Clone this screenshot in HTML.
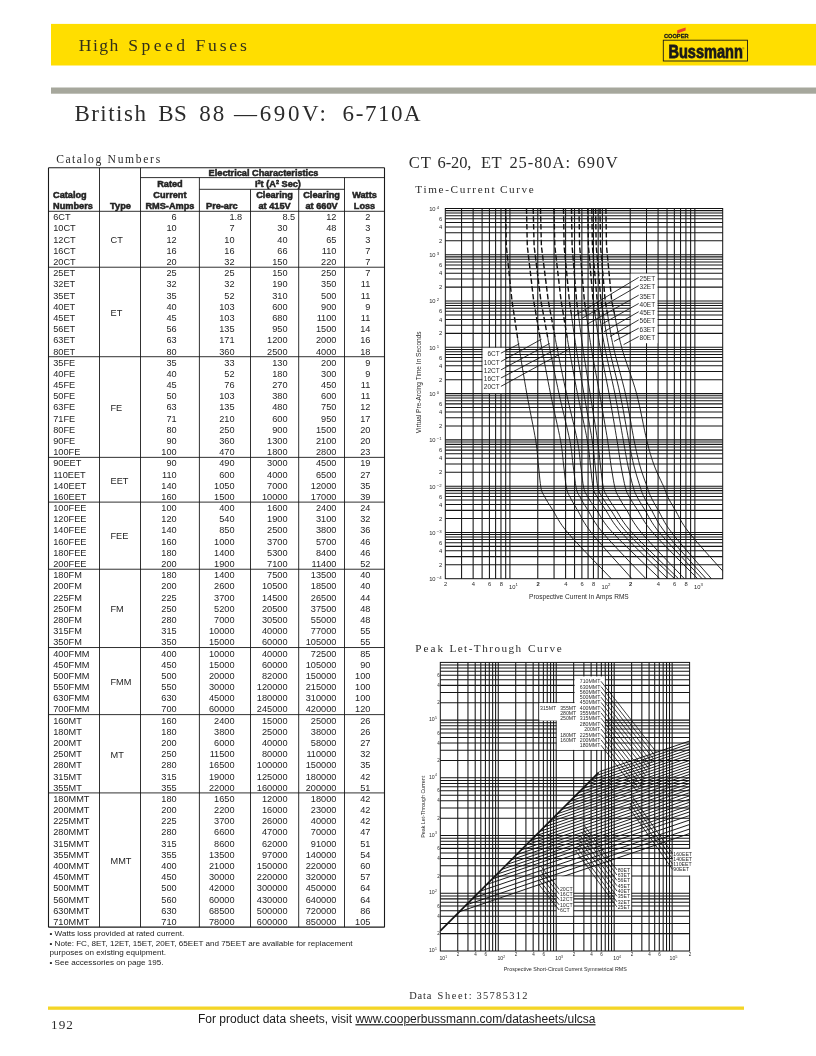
<!DOCTYPE html>
<html><head><meta charset="utf-8"><title>British BS 88</title>
<style>
html,body{margin:0;padding:0;background:#fff;}
body{width:816px;height:1056px;overflow:hidden;font-family:"Liberation Sans",sans-serif;}
svg{display:block;will-change:transform;}
svg text{white-space:pre;}
</style></head><body>
<svg width="816" height="1056" viewBox="0 0 816 1056">
<rect x="51" y="23.9" width="765" height="41.6" fill="#ffde00"/>
<rect x="51" y="87.5" width="765" height="6.2" fill="#a6a79c"/>
<text x="78.8" y="50.6" font-family="Liberation Serif" font-size="17.6" fill="#33301a" letter-spacing="1.47">High</text>
<text x="128.3" y="50.6" font-family="Liberation Serif" font-size="17.6" fill="#33301a" letter-spacing="3.42">Speed</text>
<text x="195.5" y="50.6" font-family="Liberation Serif" font-size="17.6" fill="#33301a" letter-spacing="2.80">Fuses</text>
<text x="74.4" y="121" font-family="Liberation Serif" font-size="23" fill="#2b2b2b" letter-spacing="1.48">British</text>
<text x="158.2" y="121" font-family="Liberation Serif" font-size="23" fill="#2b2b2b" letter-spacing="0.57">BS</text>
<text x="199.2" y="121" font-family="Liberation Serif" font-size="23" fill="#2b2b2b" letter-spacing="2.10">88</text>
<text x="234.1" y="121" font-family="Liberation Serif" font-size="23" fill="#2b2b2b" letter-spacing="0.00">—</text>
<text x="259.7" y="121" font-family="Liberation Serif" font-size="23" fill="#2b2b2b" letter-spacing="2.60">690V:</text>
<text x="342.6" y="121" font-family="Liberation Serif" font-size="23" fill="#2b2b2b" letter-spacing="1.57">6-710A</text>
<g id="logo">
<rect x="663.3" y="40.2" width="84.2" height="20.8" fill="#ffde00" stroke="#1a1a1a" stroke-width="0.9"/>
<text x="668.4" y="57.5" font-family="Liberation Sans" font-weight="bold" font-size="17.6" fill="#1a1a1a" stroke="#1a1a1a" stroke-width="0.8" textLength="74.5" lengthAdjust="spacingAndGlyphs">Bussmann</text>
<text x="742.2" y="50" font-family="Liberation Sans" font-size="3" fill="#1a1a1a">®</text>
<text x="664" y="38.3" font-family="Liberation Sans" font-weight="bold" font-size="6.2" fill="#1a1a1a" stroke="#1a1a1a" stroke-width="0.3" textLength="24.5" lengthAdjust="spacingAndGlyphs">COOPER</text>
<polygon points="677.2,30.3 685.6,27.5 685.6,30.5 677.2,33.4" fill="#e8412a"/>
</g>
<text x="56.3" y="162.9" font-family="Liberation Serif" font-size="11.6" fill="#2b2b2b" letter-spacing="1.47">Catalog</text>
<text x="107.6" y="162.9" font-family="Liberation Serif" font-size="11.6" fill="#2b2b2b" letter-spacing="1.68">Numbers</text>
<text x="408.8" y="168.2" font-family="Liberation Serif" font-size="16.5" fill="#2b2b2b" letter-spacing="1.01">CT</text>
<text x="437.6" y="168.2" font-family="Liberation Serif" font-size="16.5" fill="#2b2b2b" letter-spacing="-0.12">6-20,</text>
<text x="480.9" y="168.2" font-family="Liberation Serif" font-size="16.5" fill="#2b2b2b" letter-spacing="0.44">ET</text>
<text x="509.4" y="168.2" font-family="Liberation Serif" font-size="16.5" fill="#2b2b2b" letter-spacing="0.93">25-80A:</text>
<text x="577.4" y="168.2" font-family="Liberation Serif" font-size="16.5" fill="#2b2b2b" letter-spacing="1.18">690V</text>
<text x="415.3" y="192.6" font-family="Liberation Serif" font-size="11.2" fill="#2b2b2b" letter-spacing="1.66">Time-Current</text>
<text x="500.0" y="192.6" font-family="Liberation Serif" font-size="11.2" fill="#2b2b2b" letter-spacing="1.61">Curve</text>
<text x="415.3" y="651.8" font-family="Liberation Serif" font-size="11.2" fill="#2b2b2b" letter-spacing="2.04">Peak</text>
<text x="449.4" y="651.8" font-family="Liberation Serif" font-size="11.2" fill="#2b2b2b" letter-spacing="1.46">Let-Through</text>
<text x="527.9" y="651.8" font-family="Liberation Serif" font-size="11.2" fill="#2b2b2b" letter-spacing="1.63">Curve</text>
<text x="409.3" y="998.5" font-family="Liberation Serif" font-size="10.4" fill="#2b2b2b" letter-spacing="0.82">Data</text>
<text x="437.5" y="998.5" font-family="Liberation Serif" font-size="10.4" fill="#2b2b2b" letter-spacing="1.62">Sheet:</text>
<text x="476.5" y="998.5" font-family="Liberation Serif" font-size="10.4" fill="#2b2b2b" letter-spacing="1.34">35785312</text>
<rect x="48" y="1006.5" width="696" height="3.3" fill="#f4d526"/>
<text x="51.1" y="1029" font-family="Liberation Serif" font-size="13.2" fill="#2b2b2b" letter-spacing="1.00">192</text>
<text x="198" y="1023.2" font-family="Liberation Sans" font-size="12" fill="#1a1a1a">For product data sheets, visit <tspan text-decoration="underline">www.cooperbussmann.com/datasheets/ulcsa</tspan></text>
<text x="49.50" y="935.50" font-size="8.1" text-anchor="start" font-weight="normal" font-family="Liberation Sans" fill="#1a1a1a">• Watts loss provided at rated current.</text>
<text x="49.50" y="945.70" font-size="8.1" text-anchor="start" font-weight="normal" font-family="Liberation Sans" fill="#1a1a1a">• Note: FC, 8ET, 12ET, 15ET, 20ET, 65EET and 75EET are available for replacement</text>
<text x="49.50" y="955.10" font-size="8.1" text-anchor="start" font-weight="normal" font-family="Liberation Sans" fill="#1a1a1a">purposes on existing equipment.</text>
<text x="49.50" y="964.80" font-size="8.1" text-anchor="start" font-weight="normal" font-family="Liberation Sans" fill="#1a1a1a">• See accessories on page 195.</text>
<g id="tbl" fill="#242424">
<line x1="48.50" y1="167.80" x2="384.50" y2="167.80" stroke="#1a1a1a" stroke-width="1.1"/>
<line x1="48.50" y1="927.14" x2="384.50" y2="927.14" stroke="#1a1a1a" stroke-width="1.1"/>
<line x1="48.50" y1="167.80" x2="48.50" y2="927.14" stroke="#1a1a1a" stroke-width="1.1"/>
<line x1="384.50" y1="167.80" x2="384.50" y2="927.14" stroke="#1a1a1a" stroke-width="1.1"/>
<line x1="99.50" y1="167.80" x2="99.50" y2="927.14" stroke="#1a1a1a" stroke-width="0.9"/>
<line x1="140.50" y1="167.80" x2="140.50" y2="927.14" stroke="#1a1a1a" stroke-width="0.9"/>
<line x1="140.50" y1="177.60" x2="384.50" y2="177.60" stroke="#1a1a1a" stroke-width="0.9"/>
<line x1="199.40" y1="177.60" x2="199.40" y2="927.14" stroke="#1a1a1a" stroke-width="0.9"/>
<line x1="199.40" y1="189.30" x2="344.50" y2="189.30" stroke="#1a1a1a" stroke-width="0.9"/>
<line x1="250.50" y1="189.30" x2="250.50" y2="927.14" stroke="#1a1a1a" stroke-width="0.9"/>
<line x1="298.70" y1="189.30" x2="298.70" y2="927.14" stroke="#1a1a1a" stroke-width="0.9"/>
<line x1="344.50" y1="177.60" x2="344.50" y2="927.14" stroke="#1a1a1a" stroke-width="0.9"/>
<line x1="48.50" y1="211.30" x2="384.50" y2="211.30" stroke="#1a1a1a" stroke-width="0.9"/>
<text x="263.50" y="175.60" font-size="9.2" text-anchor="middle" font-weight="bold" font-family="Liberation Sans" stroke="#242424" stroke-width="0.5">Electrical Characteristics</text>
<text x="169.95" y="186.80" font-size="9.2" text-anchor="middle" font-weight="bold" font-family="Liberation Sans" stroke="#242424" stroke-width="0.5">Rated</text>
<text x="169.95" y="198.20" font-size="9.2" text-anchor="middle" font-weight="bold" font-family="Liberation Sans" stroke="#242424" stroke-width="0.5">Current</text>
<text x="169.95" y="209.40" font-size="9.2" text-anchor="middle" font-weight="bold" font-family="Liberation Sans" stroke="#242424" stroke-width="0.5">RMS-Amps</text>
<text x="277.95" y="186.80" font-size="9.2" text-anchor="middle" font-weight="bold" font-family="Liberation Sans" stroke="#242424" stroke-width="0.5">I<tspan font-size="5.5" dy="-3">2</tspan><tspan dy="3">t (A</tspan><tspan font-size="5.5" dy="-3">2</tspan><tspan dy="3"> Sec)</tspan></text>
<text x="53.00" y="198.20" font-size="9.2" text-anchor="start" font-weight="bold" font-family="Liberation Sans" stroke="#242424" stroke-width="0.5">Catalog</text>
<text x="53.00" y="209.40" font-size="9.2" text-anchor="start" font-weight="bold" font-family="Liberation Sans" stroke="#242424" stroke-width="0.5">Numbers</text>
<text x="120.50" y="209.40" font-size="9.2" text-anchor="middle" font-weight="bold" font-family="Liberation Sans" stroke="#242424" stroke-width="0.5">Type</text>
<text x="206.00" y="209.40" font-size="9.2" text-anchor="start" font-weight="bold" font-family="Liberation Sans" stroke="#242424" stroke-width="0.5">Pre-arc</text>
<text x="274.60" y="198.20" font-size="9.2" text-anchor="middle" font-weight="bold" font-family="Liberation Sans" stroke="#242424" stroke-width="0.5">Clearing</text>
<text x="274.60" y="209.40" font-size="9.2" text-anchor="middle" font-weight="bold" font-family="Liberation Sans" stroke="#242424" stroke-width="0.5">at 415V</text>
<text x="321.60" y="198.20" font-size="9.2" text-anchor="middle" font-weight="bold" font-family="Liberation Sans" stroke="#242424" stroke-width="0.5">Clearing</text>
<text x="321.60" y="209.40" font-size="9.2" text-anchor="middle" font-weight="bold" font-family="Liberation Sans" stroke="#242424" stroke-width="0.5">at 660V</text>
<text x="364.50" y="198.20" font-size="9.2" text-anchor="middle" font-weight="bold" font-family="Liberation Sans" stroke="#242424" stroke-width="0.5">Watts</text>
<text x="364.50" y="209.40" font-size="9.2" text-anchor="middle" font-weight="bold" font-family="Liberation Sans" stroke="#242424" stroke-width="0.5">Loss</text>
<text x="53.20" y="220.30" font-size="9.2" text-anchor="start" font-weight="normal" font-family="Liberation Sans" >6CT</text>
<text x="176.70" y="220.30" font-size="9.2" text-anchor="end" font-weight="normal" font-family="Liberation Sans" >6</text>
<text x="234.50" y="220.30" font-size="9.2" text-anchor="end" font-weight="normal" font-family="Liberation Sans" >1</text>
<text x="234.50" y="220.30" font-size="9.2" text-anchor="start" font-weight="normal" font-family="Liberation Sans" >.8</text>
<text x="287.50" y="220.30" font-size="9.2" text-anchor="end" font-weight="normal" font-family="Liberation Sans" >8</text>
<text x="287.50" y="220.30" font-size="9.2" text-anchor="start" font-weight="normal" font-family="Liberation Sans" >.5</text>
<text x="336.40" y="220.30" font-size="9.2" text-anchor="end" font-weight="normal" font-family="Liberation Sans" >12</text>
<text x="370.40" y="220.30" font-size="9.2" text-anchor="end" font-weight="normal" font-family="Liberation Sans" >2</text>
<text x="53.20" y="231.49" font-size="9.2" text-anchor="start" font-weight="normal" font-family="Liberation Sans" >10CT</text>
<text x="176.70" y="231.49" font-size="9.2" text-anchor="end" font-weight="normal" font-family="Liberation Sans" >10</text>
<text x="234.50" y="231.49" font-size="9.2" text-anchor="end" font-weight="normal" font-family="Liberation Sans" >7</text>
<text x="287.50" y="231.49" font-size="9.2" text-anchor="end" font-weight="normal" font-family="Liberation Sans" >30</text>
<text x="336.40" y="231.49" font-size="9.2" text-anchor="end" font-weight="normal" font-family="Liberation Sans" >48</text>
<text x="370.40" y="231.49" font-size="9.2" text-anchor="end" font-weight="normal" font-family="Liberation Sans" >3</text>
<text x="53.20" y="242.67" font-size="9.2" text-anchor="start" font-weight="normal" font-family="Liberation Sans" >12CT</text>
<text x="176.70" y="242.67" font-size="9.2" text-anchor="end" font-weight="normal" font-family="Liberation Sans" >12</text>
<text x="234.50" y="242.67" font-size="9.2" text-anchor="end" font-weight="normal" font-family="Liberation Sans" >10</text>
<text x="287.50" y="242.67" font-size="9.2" text-anchor="end" font-weight="normal" font-family="Liberation Sans" >40</text>
<text x="336.40" y="242.67" font-size="9.2" text-anchor="end" font-weight="normal" font-family="Liberation Sans" >65</text>
<text x="370.40" y="242.67" font-size="9.2" text-anchor="end" font-weight="normal" font-family="Liberation Sans" >3</text>
<text x="53.20" y="253.86" font-size="9.2" text-anchor="start" font-weight="normal" font-family="Liberation Sans" >16CT</text>
<text x="176.70" y="253.86" font-size="9.2" text-anchor="end" font-weight="normal" font-family="Liberation Sans" >16</text>
<text x="234.50" y="253.86" font-size="9.2" text-anchor="end" font-weight="normal" font-family="Liberation Sans" >16</text>
<text x="287.50" y="253.86" font-size="9.2" text-anchor="end" font-weight="normal" font-family="Liberation Sans" >66</text>
<text x="336.40" y="253.86" font-size="9.2" text-anchor="end" font-weight="normal" font-family="Liberation Sans" >110</text>
<text x="370.40" y="253.86" font-size="9.2" text-anchor="end" font-weight="normal" font-family="Liberation Sans" >7</text>
<text x="53.20" y="265.04" font-size="9.2" text-anchor="start" font-weight="normal" font-family="Liberation Sans" >20CT</text>
<text x="176.70" y="265.04" font-size="9.2" text-anchor="end" font-weight="normal" font-family="Liberation Sans" >20</text>
<text x="234.50" y="265.04" font-size="9.2" text-anchor="end" font-weight="normal" font-family="Liberation Sans" >32</text>
<text x="287.50" y="265.04" font-size="9.2" text-anchor="end" font-weight="normal" font-family="Liberation Sans" >150</text>
<text x="336.40" y="265.04" font-size="9.2" text-anchor="end" font-weight="normal" font-family="Liberation Sans" >220</text>
<text x="370.40" y="265.04" font-size="9.2" text-anchor="end" font-weight="normal" font-family="Liberation Sans" >7</text>
<text x="110.50" y="243.06" font-size="9.2" text-anchor="start" font-weight="normal" font-family="Liberation Sans" >CT</text>
<line x1="48.50" y1="267.23" x2="384.50" y2="267.23" stroke="#1a1a1a" stroke-width="0.9"/>
<text x="53.20" y="276.23" font-size="9.2" text-anchor="start" font-weight="normal" font-family="Liberation Sans" >25ET</text>
<text x="176.70" y="276.23" font-size="9.2" text-anchor="end" font-weight="normal" font-family="Liberation Sans" >25</text>
<text x="234.50" y="276.23" font-size="9.2" text-anchor="end" font-weight="normal" font-family="Liberation Sans" >25</text>
<text x="287.50" y="276.23" font-size="9.2" text-anchor="end" font-weight="normal" font-family="Liberation Sans" >150</text>
<text x="336.40" y="276.23" font-size="9.2" text-anchor="end" font-weight="normal" font-family="Liberation Sans" >250</text>
<text x="370.40" y="276.23" font-size="9.2" text-anchor="end" font-weight="normal" font-family="Liberation Sans" >7</text>
<text x="53.20" y="287.41" font-size="9.2" text-anchor="start" font-weight="normal" font-family="Liberation Sans" >32ET</text>
<text x="176.70" y="287.41" font-size="9.2" text-anchor="end" font-weight="normal" font-family="Liberation Sans" >32</text>
<text x="234.50" y="287.41" font-size="9.2" text-anchor="end" font-weight="normal" font-family="Liberation Sans" >32</text>
<text x="287.50" y="287.41" font-size="9.2" text-anchor="end" font-weight="normal" font-family="Liberation Sans" >190</text>
<text x="336.40" y="287.41" font-size="9.2" text-anchor="end" font-weight="normal" font-family="Liberation Sans" >350</text>
<text x="370.40" y="287.41" font-size="9.2" text-anchor="end" font-weight="normal" font-family="Liberation Sans" >11</text>
<text x="53.20" y="298.60" font-size="9.2" text-anchor="start" font-weight="normal" font-family="Liberation Sans" >35ET</text>
<text x="176.70" y="298.60" font-size="9.2" text-anchor="end" font-weight="normal" font-family="Liberation Sans" >35</text>
<text x="234.50" y="298.60" font-size="9.2" text-anchor="end" font-weight="normal" font-family="Liberation Sans" >52</text>
<text x="287.50" y="298.60" font-size="9.2" text-anchor="end" font-weight="normal" font-family="Liberation Sans" >310</text>
<text x="336.40" y="298.60" font-size="9.2" text-anchor="end" font-weight="normal" font-family="Liberation Sans" >500</text>
<text x="370.40" y="298.60" font-size="9.2" text-anchor="end" font-weight="normal" font-family="Liberation Sans" >11</text>
<text x="53.20" y="309.78" font-size="9.2" text-anchor="start" font-weight="normal" font-family="Liberation Sans" >40ET</text>
<text x="176.70" y="309.78" font-size="9.2" text-anchor="end" font-weight="normal" font-family="Liberation Sans" >40</text>
<text x="234.50" y="309.78" font-size="9.2" text-anchor="end" font-weight="normal" font-family="Liberation Sans" >103</text>
<text x="287.50" y="309.78" font-size="9.2" text-anchor="end" font-weight="normal" font-family="Liberation Sans" >600</text>
<text x="336.40" y="309.78" font-size="9.2" text-anchor="end" font-weight="normal" font-family="Liberation Sans" >900</text>
<text x="370.40" y="309.78" font-size="9.2" text-anchor="end" font-weight="normal" font-family="Liberation Sans" >9</text>
<text x="53.20" y="320.97" font-size="9.2" text-anchor="start" font-weight="normal" font-family="Liberation Sans" >45ET</text>
<text x="176.70" y="320.97" font-size="9.2" text-anchor="end" font-weight="normal" font-family="Liberation Sans" >45</text>
<text x="234.50" y="320.97" font-size="9.2" text-anchor="end" font-weight="normal" font-family="Liberation Sans" >103</text>
<text x="287.50" y="320.97" font-size="9.2" text-anchor="end" font-weight="normal" font-family="Liberation Sans" >680</text>
<text x="336.40" y="320.97" font-size="9.2" text-anchor="end" font-weight="normal" font-family="Liberation Sans" >1100</text>
<text x="370.40" y="320.97" font-size="9.2" text-anchor="end" font-weight="normal" font-family="Liberation Sans" >11</text>
<text x="53.20" y="332.15" font-size="9.2" text-anchor="start" font-weight="normal" font-family="Liberation Sans" >56ET</text>
<text x="176.70" y="332.15" font-size="9.2" text-anchor="end" font-weight="normal" font-family="Liberation Sans" >56</text>
<text x="234.50" y="332.15" font-size="9.2" text-anchor="end" font-weight="normal" font-family="Liberation Sans" >135</text>
<text x="287.50" y="332.15" font-size="9.2" text-anchor="end" font-weight="normal" font-family="Liberation Sans" >950</text>
<text x="336.40" y="332.15" font-size="9.2" text-anchor="end" font-weight="normal" font-family="Liberation Sans" >1500</text>
<text x="370.40" y="332.15" font-size="9.2" text-anchor="end" font-weight="normal" font-family="Liberation Sans" >14</text>
<text x="53.20" y="343.34" font-size="9.2" text-anchor="start" font-weight="normal" font-family="Liberation Sans" >63ET</text>
<text x="176.70" y="343.34" font-size="9.2" text-anchor="end" font-weight="normal" font-family="Liberation Sans" >63</text>
<text x="234.50" y="343.34" font-size="9.2" text-anchor="end" font-weight="normal" font-family="Liberation Sans" >171</text>
<text x="287.50" y="343.34" font-size="9.2" text-anchor="end" font-weight="normal" font-family="Liberation Sans" >1200</text>
<text x="336.40" y="343.34" font-size="9.2" text-anchor="end" font-weight="normal" font-family="Liberation Sans" >2000</text>
<text x="370.40" y="343.34" font-size="9.2" text-anchor="end" font-weight="normal" font-family="Liberation Sans" >16</text>
<text x="53.20" y="354.52" font-size="9.2" text-anchor="start" font-weight="normal" font-family="Liberation Sans" >80ET</text>
<text x="176.70" y="354.52" font-size="9.2" text-anchor="end" font-weight="normal" font-family="Liberation Sans" >80</text>
<text x="234.50" y="354.52" font-size="9.2" text-anchor="end" font-weight="normal" font-family="Liberation Sans" >360</text>
<text x="287.50" y="354.52" font-size="9.2" text-anchor="end" font-weight="normal" font-family="Liberation Sans" >2500</text>
<text x="336.40" y="354.52" font-size="9.2" text-anchor="end" font-weight="normal" font-family="Liberation Sans" >4000</text>
<text x="370.40" y="354.52" font-size="9.2" text-anchor="end" font-weight="normal" font-family="Liberation Sans" >18</text>
<text x="110.50" y="315.77" font-size="9.2" text-anchor="start" font-weight="normal" font-family="Liberation Sans" >ET</text>
<line x1="48.50" y1="356.71" x2="384.50" y2="356.71" stroke="#1a1a1a" stroke-width="0.9"/>
<text x="53.20" y="365.71" font-size="9.2" text-anchor="start" font-weight="normal" font-family="Liberation Sans" >35FE</text>
<text x="176.70" y="365.71" font-size="9.2" text-anchor="end" font-weight="normal" font-family="Liberation Sans" >35</text>
<text x="234.50" y="365.71" font-size="9.2" text-anchor="end" font-weight="normal" font-family="Liberation Sans" >33</text>
<text x="287.50" y="365.71" font-size="9.2" text-anchor="end" font-weight="normal" font-family="Liberation Sans" >130</text>
<text x="336.40" y="365.71" font-size="9.2" text-anchor="end" font-weight="normal" font-family="Liberation Sans" >200</text>
<text x="370.40" y="365.71" font-size="9.2" text-anchor="end" font-weight="normal" font-family="Liberation Sans" >9</text>
<text x="53.20" y="376.89" font-size="9.2" text-anchor="start" font-weight="normal" font-family="Liberation Sans" >40FE</text>
<text x="176.70" y="376.89" font-size="9.2" text-anchor="end" font-weight="normal" font-family="Liberation Sans" >40</text>
<text x="234.50" y="376.89" font-size="9.2" text-anchor="end" font-weight="normal" font-family="Liberation Sans" >52</text>
<text x="287.50" y="376.89" font-size="9.2" text-anchor="end" font-weight="normal" font-family="Liberation Sans" >180</text>
<text x="336.40" y="376.89" font-size="9.2" text-anchor="end" font-weight="normal" font-family="Liberation Sans" >300</text>
<text x="370.40" y="376.89" font-size="9.2" text-anchor="end" font-weight="normal" font-family="Liberation Sans" >9</text>
<text x="53.20" y="388.08" font-size="9.2" text-anchor="start" font-weight="normal" font-family="Liberation Sans" >45FE</text>
<text x="176.70" y="388.08" font-size="9.2" text-anchor="end" font-weight="normal" font-family="Liberation Sans" >45</text>
<text x="234.50" y="388.08" font-size="9.2" text-anchor="end" font-weight="normal" font-family="Liberation Sans" >76</text>
<text x="287.50" y="388.08" font-size="9.2" text-anchor="end" font-weight="normal" font-family="Liberation Sans" >270</text>
<text x="336.40" y="388.08" font-size="9.2" text-anchor="end" font-weight="normal" font-family="Liberation Sans" >450</text>
<text x="370.40" y="388.08" font-size="9.2" text-anchor="end" font-weight="normal" font-family="Liberation Sans" >11</text>
<text x="53.20" y="399.26" font-size="9.2" text-anchor="start" font-weight="normal" font-family="Liberation Sans" >50FE</text>
<text x="176.70" y="399.26" font-size="9.2" text-anchor="end" font-weight="normal" font-family="Liberation Sans" >50</text>
<text x="234.50" y="399.26" font-size="9.2" text-anchor="end" font-weight="normal" font-family="Liberation Sans" >103</text>
<text x="287.50" y="399.26" font-size="9.2" text-anchor="end" font-weight="normal" font-family="Liberation Sans" >380</text>
<text x="336.40" y="399.26" font-size="9.2" text-anchor="end" font-weight="normal" font-family="Liberation Sans" >600</text>
<text x="370.40" y="399.26" font-size="9.2" text-anchor="end" font-weight="normal" font-family="Liberation Sans" >11</text>
<text x="53.20" y="410.45" font-size="9.2" text-anchor="start" font-weight="normal" font-family="Liberation Sans" >63FE</text>
<text x="176.70" y="410.45" font-size="9.2" text-anchor="end" font-weight="normal" font-family="Liberation Sans" >63</text>
<text x="234.50" y="410.45" font-size="9.2" text-anchor="end" font-weight="normal" font-family="Liberation Sans" >135</text>
<text x="287.50" y="410.45" font-size="9.2" text-anchor="end" font-weight="normal" font-family="Liberation Sans" >480</text>
<text x="336.40" y="410.45" font-size="9.2" text-anchor="end" font-weight="normal" font-family="Liberation Sans" >750</text>
<text x="370.40" y="410.45" font-size="9.2" text-anchor="end" font-weight="normal" font-family="Liberation Sans" >12</text>
<text x="53.20" y="421.63" font-size="9.2" text-anchor="start" font-weight="normal" font-family="Liberation Sans" >71FE</text>
<text x="176.70" y="421.63" font-size="9.2" text-anchor="end" font-weight="normal" font-family="Liberation Sans" >71</text>
<text x="234.50" y="421.63" font-size="9.2" text-anchor="end" font-weight="normal" font-family="Liberation Sans" >210</text>
<text x="287.50" y="421.63" font-size="9.2" text-anchor="end" font-weight="normal" font-family="Liberation Sans" >600</text>
<text x="336.40" y="421.63" font-size="9.2" text-anchor="end" font-weight="normal" font-family="Liberation Sans" >950</text>
<text x="370.40" y="421.63" font-size="9.2" text-anchor="end" font-weight="normal" font-family="Liberation Sans" >17</text>
<text x="53.20" y="432.82" font-size="9.2" text-anchor="start" font-weight="normal" font-family="Liberation Sans" >80FE</text>
<text x="176.70" y="432.82" font-size="9.2" text-anchor="end" font-weight="normal" font-family="Liberation Sans" >80</text>
<text x="234.50" y="432.82" font-size="9.2" text-anchor="end" font-weight="normal" font-family="Liberation Sans" >250</text>
<text x="287.50" y="432.82" font-size="9.2" text-anchor="end" font-weight="normal" font-family="Liberation Sans" >900</text>
<text x="336.40" y="432.82" font-size="9.2" text-anchor="end" font-weight="normal" font-family="Liberation Sans" >1500</text>
<text x="370.40" y="432.82" font-size="9.2" text-anchor="end" font-weight="normal" font-family="Liberation Sans" >20</text>
<text x="53.20" y="444.00" font-size="9.2" text-anchor="start" font-weight="normal" font-family="Liberation Sans" >90FE</text>
<text x="176.70" y="444.00" font-size="9.2" text-anchor="end" font-weight="normal" font-family="Liberation Sans" >90</text>
<text x="234.50" y="444.00" font-size="9.2" text-anchor="end" font-weight="normal" font-family="Liberation Sans" >360</text>
<text x="287.50" y="444.00" font-size="9.2" text-anchor="end" font-weight="normal" font-family="Liberation Sans" >1300</text>
<text x="336.40" y="444.00" font-size="9.2" text-anchor="end" font-weight="normal" font-family="Liberation Sans" >2100</text>
<text x="370.40" y="444.00" font-size="9.2" text-anchor="end" font-weight="normal" font-family="Liberation Sans" >20</text>
<text x="53.20" y="455.19" font-size="9.2" text-anchor="start" font-weight="normal" font-family="Liberation Sans" >100FE</text>
<text x="176.70" y="455.19" font-size="9.2" text-anchor="end" font-weight="normal" font-family="Liberation Sans" >100</text>
<text x="234.50" y="455.19" font-size="9.2" text-anchor="end" font-weight="normal" font-family="Liberation Sans" >470</text>
<text x="287.50" y="455.19" font-size="9.2" text-anchor="end" font-weight="normal" font-family="Liberation Sans" >1800</text>
<text x="336.40" y="455.19" font-size="9.2" text-anchor="end" font-weight="normal" font-family="Liberation Sans" >2800</text>
<text x="370.40" y="455.19" font-size="9.2" text-anchor="end" font-weight="normal" font-family="Liberation Sans" >23</text>
<text x="110.50" y="410.84" font-size="9.2" text-anchor="start" font-weight="normal" font-family="Liberation Sans" >FE</text>
<line x1="48.50" y1="457.37" x2="384.50" y2="457.37" stroke="#1a1a1a" stroke-width="0.9"/>
<text x="53.20" y="466.37" font-size="9.2" text-anchor="start" font-weight="normal" font-family="Liberation Sans" >90EET</text>
<text x="176.70" y="466.37" font-size="9.2" text-anchor="end" font-weight="normal" font-family="Liberation Sans" >90</text>
<text x="234.50" y="466.37" font-size="9.2" text-anchor="end" font-weight="normal" font-family="Liberation Sans" >490</text>
<text x="287.50" y="466.37" font-size="9.2" text-anchor="end" font-weight="normal" font-family="Liberation Sans" >3000</text>
<text x="336.40" y="466.37" font-size="9.2" text-anchor="end" font-weight="normal" font-family="Liberation Sans" >4500</text>
<text x="370.40" y="466.37" font-size="9.2" text-anchor="end" font-weight="normal" font-family="Liberation Sans" >19</text>
<text x="53.20" y="477.56" font-size="9.2" text-anchor="start" font-weight="normal" font-family="Liberation Sans" >110EET</text>
<text x="176.70" y="477.56" font-size="9.2" text-anchor="end" font-weight="normal" font-family="Liberation Sans" >110</text>
<text x="234.50" y="477.56" font-size="9.2" text-anchor="end" font-weight="normal" font-family="Liberation Sans" >600</text>
<text x="287.50" y="477.56" font-size="9.2" text-anchor="end" font-weight="normal" font-family="Liberation Sans" >4000</text>
<text x="336.40" y="477.56" font-size="9.2" text-anchor="end" font-weight="normal" font-family="Liberation Sans" >6500</text>
<text x="370.40" y="477.56" font-size="9.2" text-anchor="end" font-weight="normal" font-family="Liberation Sans" >27</text>
<text x="53.20" y="488.74" font-size="9.2" text-anchor="start" font-weight="normal" font-family="Liberation Sans" >140EET</text>
<text x="176.70" y="488.74" font-size="9.2" text-anchor="end" font-weight="normal" font-family="Liberation Sans" >140</text>
<text x="234.50" y="488.74" font-size="9.2" text-anchor="end" font-weight="normal" font-family="Liberation Sans" >1050</text>
<text x="287.50" y="488.74" font-size="9.2" text-anchor="end" font-weight="normal" font-family="Liberation Sans" >7000</text>
<text x="336.40" y="488.74" font-size="9.2" text-anchor="end" font-weight="normal" font-family="Liberation Sans" >12000</text>
<text x="370.40" y="488.74" font-size="9.2" text-anchor="end" font-weight="normal" font-family="Liberation Sans" >35</text>
<text x="53.20" y="499.93" font-size="9.2" text-anchor="start" font-weight="normal" font-family="Liberation Sans" >160EET</text>
<text x="176.70" y="499.93" font-size="9.2" text-anchor="end" font-weight="normal" font-family="Liberation Sans" >160</text>
<text x="234.50" y="499.93" font-size="9.2" text-anchor="end" font-weight="normal" font-family="Liberation Sans" >1500</text>
<text x="287.50" y="499.93" font-size="9.2" text-anchor="end" font-weight="normal" font-family="Liberation Sans" >10000</text>
<text x="336.40" y="499.93" font-size="9.2" text-anchor="end" font-weight="normal" font-family="Liberation Sans" >17000</text>
<text x="370.40" y="499.93" font-size="9.2" text-anchor="end" font-weight="normal" font-family="Liberation Sans" >39</text>
<text x="110.50" y="483.54" font-size="9.2" text-anchor="start" font-weight="normal" font-family="Liberation Sans" >EET</text>
<line x1="48.50" y1="502.11" x2="384.50" y2="502.11" stroke="#1a1a1a" stroke-width="0.9"/>
<text x="53.20" y="511.11" font-size="9.2" text-anchor="start" font-weight="normal" font-family="Liberation Sans" >100FEE</text>
<text x="176.70" y="511.11" font-size="9.2" text-anchor="end" font-weight="normal" font-family="Liberation Sans" >100</text>
<text x="234.50" y="511.11" font-size="9.2" text-anchor="end" font-weight="normal" font-family="Liberation Sans" >400</text>
<text x="287.50" y="511.11" font-size="9.2" text-anchor="end" font-weight="normal" font-family="Liberation Sans" >1600</text>
<text x="336.40" y="511.11" font-size="9.2" text-anchor="end" font-weight="normal" font-family="Liberation Sans" >2400</text>
<text x="370.40" y="511.11" font-size="9.2" text-anchor="end" font-weight="normal" font-family="Liberation Sans" >24</text>
<text x="53.20" y="522.30" font-size="9.2" text-anchor="start" font-weight="normal" font-family="Liberation Sans" >120FEE</text>
<text x="176.70" y="522.30" font-size="9.2" text-anchor="end" font-weight="normal" font-family="Liberation Sans" >120</text>
<text x="234.50" y="522.30" font-size="9.2" text-anchor="end" font-weight="normal" font-family="Liberation Sans" >540</text>
<text x="287.50" y="522.30" font-size="9.2" text-anchor="end" font-weight="normal" font-family="Liberation Sans" >1900</text>
<text x="336.40" y="522.30" font-size="9.2" text-anchor="end" font-weight="normal" font-family="Liberation Sans" >3100</text>
<text x="370.40" y="522.30" font-size="9.2" text-anchor="end" font-weight="normal" font-family="Liberation Sans" >32</text>
<text x="53.20" y="533.48" font-size="9.2" text-anchor="start" font-weight="normal" font-family="Liberation Sans" >140FEE</text>
<text x="176.70" y="533.48" font-size="9.2" text-anchor="end" font-weight="normal" font-family="Liberation Sans" >140</text>
<text x="234.50" y="533.48" font-size="9.2" text-anchor="end" font-weight="normal" font-family="Liberation Sans" >850</text>
<text x="287.50" y="533.48" font-size="9.2" text-anchor="end" font-weight="normal" font-family="Liberation Sans" >2500</text>
<text x="336.40" y="533.48" font-size="9.2" text-anchor="end" font-weight="normal" font-family="Liberation Sans" >3800</text>
<text x="370.40" y="533.48" font-size="9.2" text-anchor="end" font-weight="normal" font-family="Liberation Sans" >36</text>
<text x="53.20" y="544.66" font-size="9.2" text-anchor="start" font-weight="normal" font-family="Liberation Sans" >160FEE</text>
<text x="176.70" y="544.66" font-size="9.2" text-anchor="end" font-weight="normal" font-family="Liberation Sans" >160</text>
<text x="234.50" y="544.66" font-size="9.2" text-anchor="end" font-weight="normal" font-family="Liberation Sans" >1000</text>
<text x="287.50" y="544.66" font-size="9.2" text-anchor="end" font-weight="normal" font-family="Liberation Sans" >3700</text>
<text x="336.40" y="544.66" font-size="9.2" text-anchor="end" font-weight="normal" font-family="Liberation Sans" >5700</text>
<text x="370.40" y="544.66" font-size="9.2" text-anchor="end" font-weight="normal" font-family="Liberation Sans" >46</text>
<text x="53.20" y="555.85" font-size="9.2" text-anchor="start" font-weight="normal" font-family="Liberation Sans" >180FEE</text>
<text x="176.70" y="555.85" font-size="9.2" text-anchor="end" font-weight="normal" font-family="Liberation Sans" >180</text>
<text x="234.50" y="555.85" font-size="9.2" text-anchor="end" font-weight="normal" font-family="Liberation Sans" >1400</text>
<text x="287.50" y="555.85" font-size="9.2" text-anchor="end" font-weight="normal" font-family="Liberation Sans" >5300</text>
<text x="336.40" y="555.85" font-size="9.2" text-anchor="end" font-weight="normal" font-family="Liberation Sans" >8400</text>
<text x="370.40" y="555.85" font-size="9.2" text-anchor="end" font-weight="normal" font-family="Liberation Sans" >46</text>
<text x="53.20" y="567.04" font-size="9.2" text-anchor="start" font-weight="normal" font-family="Liberation Sans" >200FEE</text>
<text x="176.70" y="567.04" font-size="9.2" text-anchor="end" font-weight="normal" font-family="Liberation Sans" >200</text>
<text x="234.50" y="567.04" font-size="9.2" text-anchor="end" font-weight="normal" font-family="Liberation Sans" >1900</text>
<text x="287.50" y="567.04" font-size="9.2" text-anchor="end" font-weight="normal" font-family="Liberation Sans" >7100</text>
<text x="336.40" y="567.04" font-size="9.2" text-anchor="end" font-weight="normal" font-family="Liberation Sans" >11400</text>
<text x="370.40" y="567.04" font-size="9.2" text-anchor="end" font-weight="normal" font-family="Liberation Sans" >52</text>
<text x="110.50" y="539.46" font-size="9.2" text-anchor="start" font-weight="normal" font-family="Liberation Sans" >FEE</text>
<line x1="48.50" y1="569.22" x2="384.50" y2="569.22" stroke="#1a1a1a" stroke-width="0.9"/>
<text x="53.20" y="578.22" font-size="9.2" text-anchor="start" font-weight="normal" font-family="Liberation Sans" >180FM</text>
<text x="176.70" y="578.22" font-size="9.2" text-anchor="end" font-weight="normal" font-family="Liberation Sans" >180</text>
<text x="234.50" y="578.22" font-size="9.2" text-anchor="end" font-weight="normal" font-family="Liberation Sans" >1400</text>
<text x="287.50" y="578.22" font-size="9.2" text-anchor="end" font-weight="normal" font-family="Liberation Sans" >7500</text>
<text x="336.40" y="578.22" font-size="9.2" text-anchor="end" font-weight="normal" font-family="Liberation Sans" >13500</text>
<text x="370.40" y="578.22" font-size="9.2" text-anchor="end" font-weight="normal" font-family="Liberation Sans" >40</text>
<text x="53.20" y="589.40" font-size="9.2" text-anchor="start" font-weight="normal" font-family="Liberation Sans" >200FM</text>
<text x="176.70" y="589.40" font-size="9.2" text-anchor="end" font-weight="normal" font-family="Liberation Sans" >200</text>
<text x="234.50" y="589.40" font-size="9.2" text-anchor="end" font-weight="normal" font-family="Liberation Sans" >2600</text>
<text x="287.50" y="589.40" font-size="9.2" text-anchor="end" font-weight="normal" font-family="Liberation Sans" >10500</text>
<text x="336.40" y="589.40" font-size="9.2" text-anchor="end" font-weight="normal" font-family="Liberation Sans" >18500</text>
<text x="370.40" y="589.40" font-size="9.2" text-anchor="end" font-weight="normal" font-family="Liberation Sans" >40</text>
<text x="53.20" y="600.59" font-size="9.2" text-anchor="start" font-weight="normal" font-family="Liberation Sans" >225FM</text>
<text x="176.70" y="600.59" font-size="9.2" text-anchor="end" font-weight="normal" font-family="Liberation Sans" >225</text>
<text x="234.50" y="600.59" font-size="9.2" text-anchor="end" font-weight="normal" font-family="Liberation Sans" >3700</text>
<text x="287.50" y="600.59" font-size="9.2" text-anchor="end" font-weight="normal" font-family="Liberation Sans" >14500</text>
<text x="336.40" y="600.59" font-size="9.2" text-anchor="end" font-weight="normal" font-family="Liberation Sans" >26500</text>
<text x="370.40" y="600.59" font-size="9.2" text-anchor="end" font-weight="normal" font-family="Liberation Sans" >44</text>
<text x="53.20" y="611.78" font-size="9.2" text-anchor="start" font-weight="normal" font-family="Liberation Sans" >250FM</text>
<text x="176.70" y="611.78" font-size="9.2" text-anchor="end" font-weight="normal" font-family="Liberation Sans" >250</text>
<text x="234.50" y="611.78" font-size="9.2" text-anchor="end" font-weight="normal" font-family="Liberation Sans" >5200</text>
<text x="287.50" y="611.78" font-size="9.2" text-anchor="end" font-weight="normal" font-family="Liberation Sans" >20500</text>
<text x="336.40" y="611.78" font-size="9.2" text-anchor="end" font-weight="normal" font-family="Liberation Sans" >37500</text>
<text x="370.40" y="611.78" font-size="9.2" text-anchor="end" font-weight="normal" font-family="Liberation Sans" >48</text>
<text x="53.20" y="622.96" font-size="9.2" text-anchor="start" font-weight="normal" font-family="Liberation Sans" >280FM</text>
<text x="176.70" y="622.96" font-size="9.2" text-anchor="end" font-weight="normal" font-family="Liberation Sans" >280</text>
<text x="234.50" y="622.96" font-size="9.2" text-anchor="end" font-weight="normal" font-family="Liberation Sans" >7000</text>
<text x="287.50" y="622.96" font-size="9.2" text-anchor="end" font-weight="normal" font-family="Liberation Sans" >30500</text>
<text x="336.40" y="622.96" font-size="9.2" text-anchor="end" font-weight="normal" font-family="Liberation Sans" >55000</text>
<text x="370.40" y="622.96" font-size="9.2" text-anchor="end" font-weight="normal" font-family="Liberation Sans" >48</text>
<text x="53.20" y="634.14" font-size="9.2" text-anchor="start" font-weight="normal" font-family="Liberation Sans" >315FM</text>
<text x="176.70" y="634.14" font-size="9.2" text-anchor="end" font-weight="normal" font-family="Liberation Sans" >315</text>
<text x="234.50" y="634.14" font-size="9.2" text-anchor="end" font-weight="normal" font-family="Liberation Sans" >10000</text>
<text x="287.50" y="634.14" font-size="9.2" text-anchor="end" font-weight="normal" font-family="Liberation Sans" >40000</text>
<text x="336.40" y="634.14" font-size="9.2" text-anchor="end" font-weight="normal" font-family="Liberation Sans" >77000</text>
<text x="370.40" y="634.14" font-size="9.2" text-anchor="end" font-weight="normal" font-family="Liberation Sans" >55</text>
<text x="53.20" y="645.33" font-size="9.2" text-anchor="start" font-weight="normal" font-family="Liberation Sans" >350FM</text>
<text x="176.70" y="645.33" font-size="9.2" text-anchor="end" font-weight="normal" font-family="Liberation Sans" >350</text>
<text x="234.50" y="645.33" font-size="9.2" text-anchor="end" font-weight="normal" font-family="Liberation Sans" >15000</text>
<text x="287.50" y="645.33" font-size="9.2" text-anchor="end" font-weight="normal" font-family="Liberation Sans" >60000</text>
<text x="336.40" y="645.33" font-size="9.2" text-anchor="end" font-weight="normal" font-family="Liberation Sans" >105000</text>
<text x="370.40" y="645.33" font-size="9.2" text-anchor="end" font-weight="normal" font-family="Liberation Sans" >55</text>
<text x="110.50" y="612.17" font-size="9.2" text-anchor="start" font-weight="normal" font-family="Liberation Sans" >FM</text>
<line x1="48.50" y1="647.52" x2="384.50" y2="647.52" stroke="#1a1a1a" stroke-width="0.9"/>
<text x="53.20" y="656.52" font-size="9.2" text-anchor="start" font-weight="normal" font-family="Liberation Sans" >400FMM</text>
<text x="176.70" y="656.52" font-size="9.2" text-anchor="end" font-weight="normal" font-family="Liberation Sans" >400</text>
<text x="234.50" y="656.52" font-size="9.2" text-anchor="end" font-weight="normal" font-family="Liberation Sans" >10000</text>
<text x="287.50" y="656.52" font-size="9.2" text-anchor="end" font-weight="normal" font-family="Liberation Sans" >40000</text>
<text x="336.40" y="656.52" font-size="9.2" text-anchor="end" font-weight="normal" font-family="Liberation Sans" >72500</text>
<text x="370.40" y="656.52" font-size="9.2" text-anchor="end" font-weight="normal" font-family="Liberation Sans" >85</text>
<text x="53.20" y="667.70" font-size="9.2" text-anchor="start" font-weight="normal" font-family="Liberation Sans" >450FMM</text>
<text x="176.70" y="667.70" font-size="9.2" text-anchor="end" font-weight="normal" font-family="Liberation Sans" >450</text>
<text x="234.50" y="667.70" font-size="9.2" text-anchor="end" font-weight="normal" font-family="Liberation Sans" >15000</text>
<text x="287.50" y="667.70" font-size="9.2" text-anchor="end" font-weight="normal" font-family="Liberation Sans" >60000</text>
<text x="336.40" y="667.70" font-size="9.2" text-anchor="end" font-weight="normal" font-family="Liberation Sans" >105000</text>
<text x="370.40" y="667.70" font-size="9.2" text-anchor="end" font-weight="normal" font-family="Liberation Sans" >90</text>
<text x="53.20" y="678.88" font-size="9.2" text-anchor="start" font-weight="normal" font-family="Liberation Sans" >500FMM</text>
<text x="176.70" y="678.88" font-size="9.2" text-anchor="end" font-weight="normal" font-family="Liberation Sans" >500</text>
<text x="234.50" y="678.88" font-size="9.2" text-anchor="end" font-weight="normal" font-family="Liberation Sans" >20000</text>
<text x="287.50" y="678.88" font-size="9.2" text-anchor="end" font-weight="normal" font-family="Liberation Sans" >82000</text>
<text x="336.40" y="678.88" font-size="9.2" text-anchor="end" font-weight="normal" font-family="Liberation Sans" >150000</text>
<text x="370.40" y="678.88" font-size="9.2" text-anchor="end" font-weight="normal" font-family="Liberation Sans" >100</text>
<text x="53.20" y="690.07" font-size="9.2" text-anchor="start" font-weight="normal" font-family="Liberation Sans" >550FMM</text>
<text x="176.70" y="690.07" font-size="9.2" text-anchor="end" font-weight="normal" font-family="Liberation Sans" >550</text>
<text x="234.50" y="690.07" font-size="9.2" text-anchor="end" font-weight="normal" font-family="Liberation Sans" >30000</text>
<text x="287.50" y="690.07" font-size="9.2" text-anchor="end" font-weight="normal" font-family="Liberation Sans" >120000</text>
<text x="336.40" y="690.07" font-size="9.2" text-anchor="end" font-weight="normal" font-family="Liberation Sans" >215000</text>
<text x="370.40" y="690.07" font-size="9.2" text-anchor="end" font-weight="normal" font-family="Liberation Sans" >100</text>
<text x="53.20" y="701.26" font-size="9.2" text-anchor="start" font-weight="normal" font-family="Liberation Sans" >630FMM</text>
<text x="176.70" y="701.26" font-size="9.2" text-anchor="end" font-weight="normal" font-family="Liberation Sans" >630</text>
<text x="234.50" y="701.26" font-size="9.2" text-anchor="end" font-weight="normal" font-family="Liberation Sans" >45000</text>
<text x="287.50" y="701.26" font-size="9.2" text-anchor="end" font-weight="normal" font-family="Liberation Sans" >180000</text>
<text x="336.40" y="701.26" font-size="9.2" text-anchor="end" font-weight="normal" font-family="Liberation Sans" >310000</text>
<text x="370.40" y="701.26" font-size="9.2" text-anchor="end" font-weight="normal" font-family="Liberation Sans" >100</text>
<text x="53.20" y="712.44" font-size="9.2" text-anchor="start" font-weight="normal" font-family="Liberation Sans" >700FMM</text>
<text x="176.70" y="712.44" font-size="9.2" text-anchor="end" font-weight="normal" font-family="Liberation Sans" >700</text>
<text x="234.50" y="712.44" font-size="9.2" text-anchor="end" font-weight="normal" font-family="Liberation Sans" >60000</text>
<text x="287.50" y="712.44" font-size="9.2" text-anchor="end" font-weight="normal" font-family="Liberation Sans" >245000</text>
<text x="336.40" y="712.44" font-size="9.2" text-anchor="end" font-weight="normal" font-family="Liberation Sans" >420000</text>
<text x="370.40" y="712.44" font-size="9.2" text-anchor="end" font-weight="normal" font-family="Liberation Sans" >120</text>
<text x="110.50" y="684.87" font-size="9.2" text-anchor="start" font-weight="normal" font-family="Liberation Sans" >FMM</text>
<line x1="48.50" y1="714.62" x2="384.50" y2="714.62" stroke="#1a1a1a" stroke-width="0.9"/>
<text x="53.20" y="723.62" font-size="9.2" text-anchor="start" font-weight="normal" font-family="Liberation Sans" >160MT</text>
<text x="176.70" y="723.62" font-size="9.2" text-anchor="end" font-weight="normal" font-family="Liberation Sans" >160</text>
<text x="234.50" y="723.62" font-size="9.2" text-anchor="end" font-weight="normal" font-family="Liberation Sans" >2400</text>
<text x="287.50" y="723.62" font-size="9.2" text-anchor="end" font-weight="normal" font-family="Liberation Sans" >15000</text>
<text x="336.40" y="723.62" font-size="9.2" text-anchor="end" font-weight="normal" font-family="Liberation Sans" >25000</text>
<text x="370.40" y="723.62" font-size="9.2" text-anchor="end" font-weight="normal" font-family="Liberation Sans" >26</text>
<text x="53.20" y="734.81" font-size="9.2" text-anchor="start" font-weight="normal" font-family="Liberation Sans" >180MT</text>
<text x="176.70" y="734.81" font-size="9.2" text-anchor="end" font-weight="normal" font-family="Liberation Sans" >180</text>
<text x="234.50" y="734.81" font-size="9.2" text-anchor="end" font-weight="normal" font-family="Liberation Sans" >3800</text>
<text x="287.50" y="734.81" font-size="9.2" text-anchor="end" font-weight="normal" font-family="Liberation Sans" >25000</text>
<text x="336.40" y="734.81" font-size="9.2" text-anchor="end" font-weight="normal" font-family="Liberation Sans" >38000</text>
<text x="370.40" y="734.81" font-size="9.2" text-anchor="end" font-weight="normal" font-family="Liberation Sans" >26</text>
<text x="53.20" y="746.00" font-size="9.2" text-anchor="start" font-weight="normal" font-family="Liberation Sans" >200MT</text>
<text x="176.70" y="746.00" font-size="9.2" text-anchor="end" font-weight="normal" font-family="Liberation Sans" >200</text>
<text x="234.50" y="746.00" font-size="9.2" text-anchor="end" font-weight="normal" font-family="Liberation Sans" >6000</text>
<text x="287.50" y="746.00" font-size="9.2" text-anchor="end" font-weight="normal" font-family="Liberation Sans" >40000</text>
<text x="336.40" y="746.00" font-size="9.2" text-anchor="end" font-weight="normal" font-family="Liberation Sans" >58000</text>
<text x="370.40" y="746.00" font-size="9.2" text-anchor="end" font-weight="normal" font-family="Liberation Sans" >27</text>
<text x="53.20" y="757.18" font-size="9.2" text-anchor="start" font-weight="normal" font-family="Liberation Sans" >250MT</text>
<text x="176.70" y="757.18" font-size="9.2" text-anchor="end" font-weight="normal" font-family="Liberation Sans" >250</text>
<text x="234.50" y="757.18" font-size="9.2" text-anchor="end" font-weight="normal" font-family="Liberation Sans" >11500</text>
<text x="287.50" y="757.18" font-size="9.2" text-anchor="end" font-weight="normal" font-family="Liberation Sans" >80000</text>
<text x="336.40" y="757.18" font-size="9.2" text-anchor="end" font-weight="normal" font-family="Liberation Sans" >110000</text>
<text x="370.40" y="757.18" font-size="9.2" text-anchor="end" font-weight="normal" font-family="Liberation Sans" >32</text>
<text x="53.20" y="768.37" font-size="9.2" text-anchor="start" font-weight="normal" font-family="Liberation Sans" >280MT</text>
<text x="176.70" y="768.37" font-size="9.2" text-anchor="end" font-weight="normal" font-family="Liberation Sans" >280</text>
<text x="234.50" y="768.37" font-size="9.2" text-anchor="end" font-weight="normal" font-family="Liberation Sans" >16500</text>
<text x="287.50" y="768.37" font-size="9.2" text-anchor="end" font-weight="normal" font-family="Liberation Sans" >100000</text>
<text x="336.40" y="768.37" font-size="9.2" text-anchor="end" font-weight="normal" font-family="Liberation Sans" >150000</text>
<text x="370.40" y="768.37" font-size="9.2" text-anchor="end" font-weight="normal" font-family="Liberation Sans" >35</text>
<text x="53.20" y="779.55" font-size="9.2" text-anchor="start" font-weight="normal" font-family="Liberation Sans" >315MT</text>
<text x="176.70" y="779.55" font-size="9.2" text-anchor="end" font-weight="normal" font-family="Liberation Sans" >315</text>
<text x="234.50" y="779.55" font-size="9.2" text-anchor="end" font-weight="normal" font-family="Liberation Sans" >19000</text>
<text x="287.50" y="779.55" font-size="9.2" text-anchor="end" font-weight="normal" font-family="Liberation Sans" >125000</text>
<text x="336.40" y="779.55" font-size="9.2" text-anchor="end" font-weight="normal" font-family="Liberation Sans" >180000</text>
<text x="370.40" y="779.55" font-size="9.2" text-anchor="end" font-weight="normal" font-family="Liberation Sans" >42</text>
<text x="53.20" y="790.74" font-size="9.2" text-anchor="start" font-weight="normal" font-family="Liberation Sans" >355MT</text>
<text x="176.70" y="790.74" font-size="9.2" text-anchor="end" font-weight="normal" font-family="Liberation Sans" >355</text>
<text x="234.50" y="790.74" font-size="9.2" text-anchor="end" font-weight="normal" font-family="Liberation Sans" >22000</text>
<text x="287.50" y="790.74" font-size="9.2" text-anchor="end" font-weight="normal" font-family="Liberation Sans" >160000</text>
<text x="336.40" y="790.74" font-size="9.2" text-anchor="end" font-weight="normal" font-family="Liberation Sans" >200000</text>
<text x="370.40" y="790.74" font-size="9.2" text-anchor="end" font-weight="normal" font-family="Liberation Sans" >51</text>
<text x="110.50" y="757.57" font-size="9.2" text-anchor="start" font-weight="normal" font-family="Liberation Sans" >MT</text>
<line x1="48.50" y1="792.92" x2="384.50" y2="792.92" stroke="#1a1a1a" stroke-width="0.9"/>
<text x="53.20" y="801.92" font-size="9.2" text-anchor="start" font-weight="normal" font-family="Liberation Sans" >180MMT</text>
<text x="176.70" y="801.92" font-size="9.2" text-anchor="end" font-weight="normal" font-family="Liberation Sans" >180</text>
<text x="234.50" y="801.92" font-size="9.2" text-anchor="end" font-weight="normal" font-family="Liberation Sans" >1650</text>
<text x="287.50" y="801.92" font-size="9.2" text-anchor="end" font-weight="normal" font-family="Liberation Sans" >12000</text>
<text x="336.40" y="801.92" font-size="9.2" text-anchor="end" font-weight="normal" font-family="Liberation Sans" >18000</text>
<text x="370.40" y="801.92" font-size="9.2" text-anchor="end" font-weight="normal" font-family="Liberation Sans" >42</text>
<text x="53.20" y="813.11" font-size="9.2" text-anchor="start" font-weight="normal" font-family="Liberation Sans" >200MMT</text>
<text x="176.70" y="813.11" font-size="9.2" text-anchor="end" font-weight="normal" font-family="Liberation Sans" >200</text>
<text x="234.50" y="813.11" font-size="9.2" text-anchor="end" font-weight="normal" font-family="Liberation Sans" >2200</text>
<text x="287.50" y="813.11" font-size="9.2" text-anchor="end" font-weight="normal" font-family="Liberation Sans" >16000</text>
<text x="336.40" y="813.11" font-size="9.2" text-anchor="end" font-weight="normal" font-family="Liberation Sans" >23000</text>
<text x="370.40" y="813.11" font-size="9.2" text-anchor="end" font-weight="normal" font-family="Liberation Sans" >42</text>
<text x="53.20" y="824.29" font-size="9.2" text-anchor="start" font-weight="normal" font-family="Liberation Sans" >225MMT</text>
<text x="176.70" y="824.29" font-size="9.2" text-anchor="end" font-weight="normal" font-family="Liberation Sans" >225</text>
<text x="234.50" y="824.29" font-size="9.2" text-anchor="end" font-weight="normal" font-family="Liberation Sans" >3700</text>
<text x="287.50" y="824.29" font-size="9.2" text-anchor="end" font-weight="normal" font-family="Liberation Sans" >26000</text>
<text x="336.40" y="824.29" font-size="9.2" text-anchor="end" font-weight="normal" font-family="Liberation Sans" >40000</text>
<text x="370.40" y="824.29" font-size="9.2" text-anchor="end" font-weight="normal" font-family="Liberation Sans" >42</text>
<text x="53.20" y="835.48" font-size="9.2" text-anchor="start" font-weight="normal" font-family="Liberation Sans" >280MMT</text>
<text x="176.70" y="835.48" font-size="9.2" text-anchor="end" font-weight="normal" font-family="Liberation Sans" >280</text>
<text x="234.50" y="835.48" font-size="9.2" text-anchor="end" font-weight="normal" font-family="Liberation Sans" >6600</text>
<text x="287.50" y="835.48" font-size="9.2" text-anchor="end" font-weight="normal" font-family="Liberation Sans" >47000</text>
<text x="336.40" y="835.48" font-size="9.2" text-anchor="end" font-weight="normal" font-family="Liberation Sans" >70000</text>
<text x="370.40" y="835.48" font-size="9.2" text-anchor="end" font-weight="normal" font-family="Liberation Sans" >47</text>
<text x="53.20" y="846.66" font-size="9.2" text-anchor="start" font-weight="normal" font-family="Liberation Sans" >315MMT</text>
<text x="176.70" y="846.66" font-size="9.2" text-anchor="end" font-weight="normal" font-family="Liberation Sans" >315</text>
<text x="234.50" y="846.66" font-size="9.2" text-anchor="end" font-weight="normal" font-family="Liberation Sans" >8600</text>
<text x="287.50" y="846.66" font-size="9.2" text-anchor="end" font-weight="normal" font-family="Liberation Sans" >62000</text>
<text x="336.40" y="846.66" font-size="9.2" text-anchor="end" font-weight="normal" font-family="Liberation Sans" >91000</text>
<text x="370.40" y="846.66" font-size="9.2" text-anchor="end" font-weight="normal" font-family="Liberation Sans" >51</text>
<text x="53.20" y="857.85" font-size="9.2" text-anchor="start" font-weight="normal" font-family="Liberation Sans" >355MMT</text>
<text x="176.70" y="857.85" font-size="9.2" text-anchor="end" font-weight="normal" font-family="Liberation Sans" >355</text>
<text x="234.50" y="857.85" font-size="9.2" text-anchor="end" font-weight="normal" font-family="Liberation Sans" >13500</text>
<text x="287.50" y="857.85" font-size="9.2" text-anchor="end" font-weight="normal" font-family="Liberation Sans" >97000</text>
<text x="336.40" y="857.85" font-size="9.2" text-anchor="end" font-weight="normal" font-family="Liberation Sans" >140000</text>
<text x="370.40" y="857.85" font-size="9.2" text-anchor="end" font-weight="normal" font-family="Liberation Sans" >54</text>
<text x="53.20" y="869.03" font-size="9.2" text-anchor="start" font-weight="normal" font-family="Liberation Sans" >400MMT</text>
<text x="176.70" y="869.03" font-size="9.2" text-anchor="end" font-weight="normal" font-family="Liberation Sans" >400</text>
<text x="234.50" y="869.03" font-size="9.2" text-anchor="end" font-weight="normal" font-family="Liberation Sans" >21000</text>
<text x="287.50" y="869.03" font-size="9.2" text-anchor="end" font-weight="normal" font-family="Liberation Sans" >150000</text>
<text x="336.40" y="869.03" font-size="9.2" text-anchor="end" font-weight="normal" font-family="Liberation Sans" >220000</text>
<text x="370.40" y="869.03" font-size="9.2" text-anchor="end" font-weight="normal" font-family="Liberation Sans" >60</text>
<text x="53.20" y="880.22" font-size="9.2" text-anchor="start" font-weight="normal" font-family="Liberation Sans" >450MMT</text>
<text x="176.70" y="880.22" font-size="9.2" text-anchor="end" font-weight="normal" font-family="Liberation Sans" >450</text>
<text x="234.50" y="880.22" font-size="9.2" text-anchor="end" font-weight="normal" font-family="Liberation Sans" >30000</text>
<text x="287.50" y="880.22" font-size="9.2" text-anchor="end" font-weight="normal" font-family="Liberation Sans" >220000</text>
<text x="336.40" y="880.22" font-size="9.2" text-anchor="end" font-weight="normal" font-family="Liberation Sans" >320000</text>
<text x="370.40" y="880.22" font-size="9.2" text-anchor="end" font-weight="normal" font-family="Liberation Sans" >57</text>
<text x="53.20" y="891.40" font-size="9.2" text-anchor="start" font-weight="normal" font-family="Liberation Sans" >500MMT</text>
<text x="176.70" y="891.40" font-size="9.2" text-anchor="end" font-weight="normal" font-family="Liberation Sans" >500</text>
<text x="234.50" y="891.40" font-size="9.2" text-anchor="end" font-weight="normal" font-family="Liberation Sans" >42000</text>
<text x="287.50" y="891.40" font-size="9.2" text-anchor="end" font-weight="normal" font-family="Liberation Sans" >300000</text>
<text x="336.40" y="891.40" font-size="9.2" text-anchor="end" font-weight="normal" font-family="Liberation Sans" >450000</text>
<text x="370.40" y="891.40" font-size="9.2" text-anchor="end" font-weight="normal" font-family="Liberation Sans" >64</text>
<text x="53.20" y="902.59" font-size="9.2" text-anchor="start" font-weight="normal" font-family="Liberation Sans" >560MMT</text>
<text x="176.70" y="902.59" font-size="9.2" text-anchor="end" font-weight="normal" font-family="Liberation Sans" >560</text>
<text x="234.50" y="902.59" font-size="9.2" text-anchor="end" font-weight="normal" font-family="Liberation Sans" >60000</text>
<text x="287.50" y="902.59" font-size="9.2" text-anchor="end" font-weight="normal" font-family="Liberation Sans" >430000</text>
<text x="336.40" y="902.59" font-size="9.2" text-anchor="end" font-weight="normal" font-family="Liberation Sans" >640000</text>
<text x="370.40" y="902.59" font-size="9.2" text-anchor="end" font-weight="normal" font-family="Liberation Sans" >64</text>
<text x="53.20" y="913.77" font-size="9.2" text-anchor="start" font-weight="normal" font-family="Liberation Sans" >630MMT</text>
<text x="176.70" y="913.77" font-size="9.2" text-anchor="end" font-weight="normal" font-family="Liberation Sans" >630</text>
<text x="234.50" y="913.77" font-size="9.2" text-anchor="end" font-weight="normal" font-family="Liberation Sans" >68500</text>
<text x="287.50" y="913.77" font-size="9.2" text-anchor="end" font-weight="normal" font-family="Liberation Sans" >500000</text>
<text x="336.40" y="913.77" font-size="9.2" text-anchor="end" font-weight="normal" font-family="Liberation Sans" >720000</text>
<text x="370.40" y="913.77" font-size="9.2" text-anchor="end" font-weight="normal" font-family="Liberation Sans" >86</text>
<text x="53.20" y="924.96" font-size="9.2" text-anchor="start" font-weight="normal" font-family="Liberation Sans" >710MMT</text>
<text x="176.70" y="924.96" font-size="9.2" text-anchor="end" font-weight="normal" font-family="Liberation Sans" >710</text>
<text x="234.50" y="924.96" font-size="9.2" text-anchor="end" font-weight="normal" font-family="Liberation Sans" >78000</text>
<text x="287.50" y="924.96" font-size="9.2" text-anchor="end" font-weight="normal" font-family="Liberation Sans" >600000</text>
<text x="336.40" y="924.96" font-size="9.2" text-anchor="end" font-weight="normal" font-family="Liberation Sans" >850000</text>
<text x="370.40" y="924.96" font-size="9.2" text-anchor="end" font-weight="normal" font-family="Liberation Sans" >105</text>
<text x="110.50" y="863.83" font-size="9.2" text-anchor="start" font-weight="normal" font-family="Liberation Sans" >MMT</text>
</g>
<g id="c1">
<line x1="461.58" y1="208.50" x2="461.58" y2="578.70" stroke="#141414" stroke-width="1.05"/>
<line x1="473.14" y1="208.50" x2="473.14" y2="578.70" stroke="#141414" stroke-width="1.05"/>
<line x1="482.10" y1="208.50" x2="482.10" y2="578.70" stroke="#141414" stroke-width="1.05"/>
<line x1="489.42" y1="208.50" x2="489.42" y2="578.70" stroke="#141414" stroke-width="1.05"/>
<line x1="495.61" y1="208.50" x2="495.61" y2="578.70" stroke="#141414" stroke-width="1.05"/>
<line x1="500.97" y1="208.50" x2="500.97" y2="578.70" stroke="#141414" stroke-width="1.05"/>
<line x1="505.70" y1="208.50" x2="505.70" y2="578.70" stroke="#141414" stroke-width="1.05"/>
<line x1="509.93" y1="208.50" x2="509.93" y2="578.70" stroke="#141414" stroke-width="1.05"/>
<line x1="537.77" y1="208.50" x2="537.77" y2="578.70" stroke="#141414" stroke-width="1.05"/>
<line x1="554.05" y1="208.50" x2="554.05" y2="578.70" stroke="#141414" stroke-width="1.05"/>
<line x1="565.60" y1="208.50" x2="565.60" y2="578.70" stroke="#141414" stroke-width="1.05"/>
<line x1="574.56" y1="208.50" x2="574.56" y2="578.70" stroke="#141414" stroke-width="1.05"/>
<line x1="581.88" y1="208.50" x2="581.88" y2="578.70" stroke="#141414" stroke-width="1.05"/>
<line x1="588.07" y1="208.50" x2="588.07" y2="578.70" stroke="#141414" stroke-width="1.05"/>
<line x1="593.44" y1="208.50" x2="593.44" y2="578.70" stroke="#141414" stroke-width="1.05"/>
<line x1="598.17" y1="208.50" x2="598.17" y2="578.70" stroke="#141414" stroke-width="1.05"/>
<line x1="602.40" y1="208.50" x2="602.40" y2="578.70" stroke="#141414" stroke-width="1.05"/>
<line x1="630.23" y1="208.50" x2="630.23" y2="578.70" stroke="#141414" stroke-width="1.05"/>
<line x1="646.52" y1="208.50" x2="646.52" y2="578.70" stroke="#141414" stroke-width="1.05"/>
<line x1="658.07" y1="208.50" x2="658.07" y2="578.70" stroke="#141414" stroke-width="1.05"/>
<line x1="667.03" y1="208.50" x2="667.03" y2="578.70" stroke="#141414" stroke-width="1.05"/>
<line x1="674.35" y1="208.50" x2="674.35" y2="578.70" stroke="#141414" stroke-width="1.05"/>
<line x1="680.54" y1="208.50" x2="680.54" y2="578.70" stroke="#141414" stroke-width="1.05"/>
<line x1="685.90" y1="208.50" x2="685.90" y2="578.70" stroke="#141414" stroke-width="1.05"/>
<line x1="690.63" y1="208.50" x2="690.63" y2="578.70" stroke="#141414" stroke-width="1.05"/>
<line x1="694.86" y1="208.50" x2="694.86" y2="578.70" stroke="#141414" stroke-width="1.05"/>
<line x1="445.30" y1="564.77" x2="722.70" y2="564.77" stroke="#141414" stroke-width="1.05"/>
<line x1="445.30" y1="556.62" x2="722.70" y2="556.62" stroke="#141414" stroke-width="1.05"/>
<line x1="445.30" y1="550.84" x2="722.70" y2="550.84" stroke="#141414" stroke-width="1.05"/>
<line x1="445.30" y1="546.36" x2="722.70" y2="546.36" stroke="#141414" stroke-width="1.05"/>
<line x1="445.30" y1="542.69" x2="722.70" y2="542.69" stroke="#141414" stroke-width="1.05"/>
<line x1="445.30" y1="539.59" x2="722.70" y2="539.59" stroke="#141414" stroke-width="1.05"/>
<line x1="445.30" y1="536.91" x2="722.70" y2="536.91" stroke="#141414" stroke-width="1.05"/>
<line x1="445.30" y1="534.54" x2="722.70" y2="534.54" stroke="#141414" stroke-width="1.05"/>
<line x1="445.30" y1="532.43" x2="722.70" y2="532.43" stroke="#141414" stroke-width="1.05"/>
<line x1="445.30" y1="518.49" x2="722.70" y2="518.49" stroke="#141414" stroke-width="1.05"/>
<line x1="445.30" y1="510.35" x2="722.70" y2="510.35" stroke="#141414" stroke-width="1.05"/>
<line x1="445.30" y1="504.56" x2="722.70" y2="504.56" stroke="#141414" stroke-width="1.05"/>
<line x1="445.30" y1="500.08" x2="722.70" y2="500.08" stroke="#141414" stroke-width="1.05"/>
<line x1="445.30" y1="496.42" x2="722.70" y2="496.42" stroke="#141414" stroke-width="1.05"/>
<line x1="445.30" y1="493.32" x2="722.70" y2="493.32" stroke="#141414" stroke-width="1.05"/>
<line x1="445.30" y1="490.63" x2="722.70" y2="490.63" stroke="#141414" stroke-width="1.05"/>
<line x1="445.30" y1="488.27" x2="722.70" y2="488.27" stroke="#141414" stroke-width="1.05"/>
<line x1="445.30" y1="486.15" x2="722.70" y2="486.15" stroke="#141414" stroke-width="1.05"/>
<line x1="445.30" y1="472.22" x2="722.70" y2="472.22" stroke="#141414" stroke-width="1.05"/>
<line x1="445.30" y1="464.07" x2="722.70" y2="464.07" stroke="#141414" stroke-width="1.05"/>
<line x1="445.30" y1="458.29" x2="722.70" y2="458.29" stroke="#141414" stroke-width="1.05"/>
<line x1="445.30" y1="453.81" x2="722.70" y2="453.81" stroke="#141414" stroke-width="1.05"/>
<line x1="445.30" y1="450.14" x2="722.70" y2="450.14" stroke="#141414" stroke-width="1.05"/>
<line x1="445.30" y1="447.04" x2="722.70" y2="447.04" stroke="#141414" stroke-width="1.05"/>
<line x1="445.30" y1="444.36" x2="722.70" y2="444.36" stroke="#141414" stroke-width="1.05"/>
<line x1="445.30" y1="441.99" x2="722.70" y2="441.99" stroke="#141414" stroke-width="1.05"/>
<line x1="445.30" y1="439.88" x2="722.70" y2="439.88" stroke="#141414" stroke-width="1.05"/>
<line x1="445.30" y1="425.94" x2="722.70" y2="425.94" stroke="#141414" stroke-width="1.05"/>
<line x1="445.30" y1="417.80" x2="722.70" y2="417.80" stroke="#141414" stroke-width="1.05"/>
<line x1="445.30" y1="412.01" x2="722.70" y2="412.01" stroke="#141414" stroke-width="1.05"/>
<line x1="445.30" y1="407.53" x2="722.70" y2="407.53" stroke="#141414" stroke-width="1.05"/>
<line x1="445.30" y1="403.87" x2="722.70" y2="403.87" stroke="#141414" stroke-width="1.05"/>
<line x1="445.30" y1="400.77" x2="722.70" y2="400.77" stroke="#141414" stroke-width="1.05"/>
<line x1="445.30" y1="398.08" x2="722.70" y2="398.08" stroke="#141414" stroke-width="1.05"/>
<line x1="445.30" y1="395.72" x2="722.70" y2="395.72" stroke="#141414" stroke-width="1.05"/>
<line x1="445.30" y1="393.60" x2="722.70" y2="393.60" stroke="#141414" stroke-width="1.05"/>
<line x1="445.30" y1="379.67" x2="722.70" y2="379.67" stroke="#141414" stroke-width="1.05"/>
<line x1="445.30" y1="371.52" x2="722.70" y2="371.52" stroke="#141414" stroke-width="1.05"/>
<line x1="445.30" y1="365.74" x2="722.70" y2="365.74" stroke="#141414" stroke-width="1.05"/>
<line x1="445.30" y1="361.26" x2="722.70" y2="361.26" stroke="#141414" stroke-width="1.05"/>
<line x1="445.30" y1="357.59" x2="722.70" y2="357.59" stroke="#141414" stroke-width="1.05"/>
<line x1="445.30" y1="354.49" x2="722.70" y2="354.49" stroke="#141414" stroke-width="1.05"/>
<line x1="445.30" y1="351.81" x2="722.70" y2="351.81" stroke="#141414" stroke-width="1.05"/>
<line x1="445.30" y1="349.44" x2="722.70" y2="349.44" stroke="#141414" stroke-width="1.05"/>
<line x1="445.30" y1="347.33" x2="722.70" y2="347.33" stroke="#141414" stroke-width="1.05"/>
<line x1="445.30" y1="333.39" x2="722.70" y2="333.39" stroke="#141414" stroke-width="1.05"/>
<line x1="445.30" y1="325.25" x2="722.70" y2="325.25" stroke="#141414" stroke-width="1.05"/>
<line x1="445.30" y1="319.46" x2="722.70" y2="319.46" stroke="#141414" stroke-width="1.05"/>
<line x1="445.30" y1="314.98" x2="722.70" y2="314.98" stroke="#141414" stroke-width="1.05"/>
<line x1="445.30" y1="311.32" x2="722.70" y2="311.32" stroke="#141414" stroke-width="1.05"/>
<line x1="445.30" y1="308.22" x2="722.70" y2="308.22" stroke="#141414" stroke-width="1.05"/>
<line x1="445.30" y1="305.53" x2="722.70" y2="305.53" stroke="#141414" stroke-width="1.05"/>
<line x1="445.30" y1="303.17" x2="722.70" y2="303.17" stroke="#141414" stroke-width="1.05"/>
<line x1="445.30" y1="301.05" x2="722.70" y2="301.05" stroke="#141414" stroke-width="1.05"/>
<line x1="445.30" y1="287.12" x2="722.70" y2="287.12" stroke="#141414" stroke-width="1.05"/>
<line x1="445.30" y1="278.97" x2="722.70" y2="278.97" stroke="#141414" stroke-width="1.05"/>
<line x1="445.30" y1="273.19" x2="722.70" y2="273.19" stroke="#141414" stroke-width="1.05"/>
<line x1="445.30" y1="268.71" x2="722.70" y2="268.71" stroke="#141414" stroke-width="1.05"/>
<line x1="445.30" y1="265.04" x2="722.70" y2="265.04" stroke="#141414" stroke-width="1.05"/>
<line x1="445.30" y1="261.94" x2="722.70" y2="261.94" stroke="#141414" stroke-width="1.05"/>
<line x1="445.30" y1="259.26" x2="722.70" y2="259.26" stroke="#141414" stroke-width="1.05"/>
<line x1="445.30" y1="256.89" x2="722.70" y2="256.89" stroke="#141414" stroke-width="1.05"/>
<line x1="445.30" y1="254.78" x2="722.70" y2="254.78" stroke="#141414" stroke-width="1.05"/>
<line x1="445.30" y1="240.84" x2="722.70" y2="240.84" stroke="#141414" stroke-width="1.05"/>
<line x1="445.30" y1="232.70" x2="722.70" y2="232.70" stroke="#141414" stroke-width="1.05"/>
<line x1="445.30" y1="226.91" x2="722.70" y2="226.91" stroke="#141414" stroke-width="1.05"/>
<line x1="445.30" y1="222.43" x2="722.70" y2="222.43" stroke="#141414" stroke-width="1.05"/>
<line x1="445.30" y1="218.77" x2="722.70" y2="218.77" stroke="#141414" stroke-width="1.05"/>
<line x1="445.30" y1="215.67" x2="722.70" y2="215.67" stroke="#141414" stroke-width="1.05"/>
<line x1="445.30" y1="212.98" x2="722.70" y2="212.98" stroke="#141414" stroke-width="1.05"/>
<line x1="445.30" y1="210.62" x2="722.70" y2="210.62" stroke="#141414" stroke-width="1.05"/>
<rect x="445.3" y="208.5" width="277.40000000000003" height="370.20000000000005" fill="none" stroke="#111" stroke-width="1"/>
<clipPath id="c1clip"><rect x="445.3" y="208.5" width="277.40000000000003" height="370.20000000000005"/></clipPath>
<g clip-path="url(#c1clip)" fill="none" stroke="#111" stroke-width="0.9">
<polyline stroke-width="1.4" stroke-dasharray="5.5 2.3" points="505.6,208.5 506.3,246.0 512.0,301.0 517.6,338.0"/>
<path d="M517.6,338.0 C517.8,339.6 517.5,338.2 519.1,347.5 C520.6,356.8 524.1,378.2 526.8,393.7 C529.6,409.2 533.7,428.3 535.7,440.4 C537.6,452.4 537.6,458.1 538.5,466.0 C539.4,473.9 540.0,482.8 541.0,488.0 C542.0,493.2 542.9,493.4 544.8,497.0 C546.7,500.6 548.7,503.8 552.6,509.8 C556.5,515.8 558.2,521.5 568.0,533.0 C577.8,544.5 604.2,571.2 611.4,578.8"/>
<polyline stroke-width="1.4" stroke-dasharray="5.5 2.3" points="526.5,208.5 527.3,246.0 533.7,301.0 540.1,338.0"/>
<path d="M540.1,338.0 C540.3,339.6 540.0,338.2 541.7,347.5 C543.4,356.8 547.4,378.2 550.5,393.7 C553.6,409.2 558.3,428.3 560.5,440.4 C562.7,452.4 562.7,458.1 563.7,466.0 C564.7,473.9 565.4,482.8 566.5,488.0 C567.6,493.2 568.2,493.4 570.0,497.0 C571.8,500.6 573.7,503.8 577.3,509.8 C580.9,515.8 582.5,521.5 591.6,533.0 C600.7,544.5 625.3,571.2 632.0,578.8"/>
<polyline stroke-width="1.4" stroke-dasharray="5.5 2.3" points="533.2,208.5 534.1,246.0 540.9,301.0 547.8,338.0"/>
<path d="M547.8,338.0 C548.1,339.6 547.7,338.2 549.5,347.5 C551.4,356.8 555.6,378.2 559.0,393.7 C562.4,409.2 567.4,428.3 569.8,440.4 C572.1,452.4 572.1,458.1 573.2,466.0 C574.3,473.9 575.1,482.8 576.2,488.0 C577.3,493.2 578.1,493.4 580.0,497.0 C581.9,500.6 583.9,503.8 587.7,509.8 C591.5,515.8 593.3,521.5 603.0,533.0 C612.7,544.5 638.8,571.2 646.0,578.8"/>
<polyline stroke-width="1.4" stroke-dasharray="5.5 2.3" points="540.5,208.5 541.4,246.0 548.3,301.0 555.2,338.0"/>
<path d="M555.2,338.0 C555.5,339.6 555.1,338.2 557.0,347.5 C558.8,356.8 563.1,378.2 566.5,393.7 C569.9,409.2 574.9,428.3 577.3,440.4 C579.7,452.4 579.7,458.1 580.8,466.0 C581.9,473.9 582.6,482.8 583.8,488.0 C585.0,493.2 585.8,493.4 587.9,497.0 C590.0,500.6 592.2,503.8 596.4,509.8 C600.5,515.8 602.4,521.5 613.0,533.0 C623.6,544.5 652.2,571.2 660.0,578.8"/>
<polyline stroke-width="1.4" stroke-dasharray="5.5 2.3" points="554.0,208.5 554.8,246.0 561.1,301.0 567.3,338.0"/>
<path d="M567.3,338.0 C567.6,339.6 567.2,338.2 568.9,347.5 C570.6,356.8 574.4,378.2 577.5,393.7 C580.6,409.2 585.2,428.3 587.3,440.4 C589.5,452.4 589.5,458.1 590.5,466.0 C591.4,473.9 592.1,482.8 593.2,488.0 C594.3,493.2 595.2,493.4 597.2,497.0 C599.3,500.6 601.4,503.8 605.5,509.8 C609.6,515.8 611.4,521.5 621.8,533.0 C632.2,544.5 660.1,571.2 667.8,578.8"/>
<polyline stroke-width="1.4" stroke-dasharray="5.5 2.3" points="563.5,208.5 564.1,246.0 569.4,301.0 571.3,314.0"/>
<path d="M571.3,314.0 C572.1,319.6 574.0,334.2 576.1,347.5 C578.2,360.8 581.2,378.2 583.9,393.7 C586.6,409.2 590.3,428.3 592.2,440.4 C594.1,452.4 594.2,458.1 595.2,466.0 C596.1,473.9 596.8,482.8 598.0,488.0 C599.2,493.2 600.0,493.4 602.1,497.0 C604.2,500.6 606.4,503.8 610.6,509.8 C614.9,515.8 616.7,521.5 627.4,533.0 C638.1,544.5 666.8,571.2 674.7,578.8"/>
<polyline stroke-width="1.4" stroke-dasharray="5.5 2.3" points="571.5,208.5 572.1,246.0 576.6,301.0 578.3,314.0"/>
<path d="M578.3,314.0 C579.1,319.6 580.8,334.2 582.8,347.5 C584.7,360.8 587.6,378.2 590.1,393.7 C592.6,409.2 595.8,428.3 597.5,440.4 C599.2,452.4 599.5,458.1 600.5,466.0 C601.5,473.9 602.3,482.8 603.5,488.0 C604.7,493.2 605.5,493.4 607.6,497.0 C609.6,500.6 611.7,503.8 615.9,509.8 C620.0,515.8 621.8,521.5 632.3,533.0 C642.8,544.5 670.9,571.2 678.6,578.8"/>
<polyline stroke-width="1.4" stroke-dasharray="5.5 2.3" points="579.0,208.5 579.6,246.0 584.4,301.0 586.3,314.0"/>
<path d="M586.3,314.0 C587.1,319.6 589.0,334.2 591.2,347.5 C593.4,360.8 596.9,378.2 599.6,393.7 C602.3,409.2 605.7,428.3 607.6,440.4 C609.5,452.4 609.9,458.1 611.1,466.0 C612.4,473.9 613.7,482.8 615.0,488.0 C616.3,493.2 616.8,493.4 618.8,497.0 C620.7,500.6 622.6,503.8 626.5,509.8 C630.3,515.8 632.0,521.5 641.7,533.0 C651.3,544.5 677.4,571.2 684.5,578.8"/>
<polyline stroke-width="1.4" stroke-dasharray="5.5 2.3" points="587.8,208.5 588.4,246.0 593.1,301.0 595.0,314.0"/>
<path d="M595.0,314.0 C595.9,319.6 597.7,334.2 600.1,347.5 C602.4,360.8 606.2,378.2 609.0,393.7 C611.8,409.2 615.0,428.3 617.0,440.4 C619.0,452.4 619.6,458.1 621.0,466.0 C622.4,473.9 624.1,482.8 625.5,488.0 C626.9,493.2 627.4,493.4 629.4,497.0 C631.4,500.6 633.4,503.8 637.4,509.8 C641.4,515.8 643.1,521.5 653.2,533.0 C663.2,544.5 690.3,571.2 697.7,578.8"/>
<polyline stroke-width="1.4" stroke-dasharray="5.5 2.3" points="591.8,208.5 592.4,246.0 597.2,301.0 599.3,314.0"/>
<path d="M599.3,314.0 C600.2,319.6 602.2,334.2 604.8,347.5 C607.4,360.8 611.8,378.2 614.9,393.7 C618.0,409.2 621.2,428.3 623.3,440.4 C625.5,452.4 626.3,458.1 628.0,466.0 C629.7,473.9 632.0,482.8 633.5,488.0 C635.0,493.2 635.3,493.4 637.2,497.0 C639.1,500.6 641.0,503.8 644.8,509.8 C648.6,515.8 650.3,521.5 659.8,533.0 C669.4,544.5 695.1,571.2 702.2,578.8"/>
<polyline stroke-width="1.4" stroke-dasharray="5.5 2.3" points="595.6,208.5 596.2,246.0 601.0,301.0 603.2,314.0"/>
<path d="M603.2,314.0 C604.2,319.6 606.2,334.2 609.0,347.5 C611.8,360.8 616.7,378.2 620.0,393.7 C623.3,409.2 626.4,428.3 628.7,440.4 C631.0,452.4 632.0,458.1 634.0,466.0 C636.0,473.9 638.8,482.8 640.5,488.0 C642.2,493.2 642.2,493.4 644.0,497.0 C645.8,500.6 647.7,503.8 651.3,509.8 C654.9,515.8 656.5,521.5 665.7,533.0 C674.8,544.5 699.4,571.2 706.1,578.8"/>
<polyline stroke-width="1.4" stroke-dasharray="5.5 2.3" points="600.0,208.5 600.5,246.0 605.2,301.0 607.5,314.0"/>
<path d="M607.5,314.0 C608.5,319.6 610.5,334.2 613.5,347.5 C616.5,360.8 621.9,378.2 625.4,393.7 C628.8,409.2 631.7,428.3 634.1,440.4 C636.6,452.4 637.8,458.1 640.0,466.0 C642.2,473.9 645.7,482.8 647.5,488.0 C649.3,493.2 649.2,493.4 651.0,497.0 C652.7,500.6 654.5,503.8 658.0,509.8 C661.6,515.8 663.1,521.5 672.0,533.0 C681.0,544.5 704.9,571.2 711.5,578.8"/>
<polyline stroke-width="1.4" stroke-dasharray="5.5 2.3" points="605.9,208.5 606.5,246.0 611.7,301.0 614.5,314.0"/>
<path d="M614.5,314.0 C615.7,319.6 618.0,334.2 621.7,347.5 C625.3,360.8 632.4,378.2 636.6,393.7 C640.7,409.2 643.8,428.3 646.8,440.4 C649.7,452.4 651.5,458.1 654.4,466.0 C657.3,473.9 662.1,482.8 664.3,488.0 C666.5,493.2 666.0,493.4 667.8,497.0 C669.6,500.6 671.5,503.8 675.1,509.8 C678.7,515.8 680.3,521.5 689.4,533.0 C698.5,544.5 723.1,571.2 729.8,578.8"/>
</g>
<rect x="482.6" y="347.8" width="22.6" height="45.3" fill="#fff"/>
<rect x="630.7" y="273.6" width="26.8" height="69.6" fill="#fff"/>
<text x="499.70" y="356.10" font-size="6.5" text-anchor="end" font-weight="normal" font-family="Liberation Sans" fill="#2a2a2a">6CT</text>
<line x1="500.9" y1="353.2" x2="519.3" y2="343.8" stroke="#111" stroke-width="0.85"/>
<text x="499.70" y="364.50" font-size="6.5" text-anchor="end" font-weight="normal" font-family="Liberation Sans" fill="#2a2a2a">10CT</text>
<line x1="500.9" y1="361.59999999999997" x2="541.5" y2="339.2" stroke="#111" stroke-width="0.85"/>
<text x="499.70" y="372.80" font-size="6.5" text-anchor="end" font-weight="normal" font-family="Liberation Sans" fill="#2a2a2a">12CT</text>
<line x1="500.9" y1="369.9" x2="549.6" y2="343.5" stroke="#111" stroke-width="0.85"/>
<text x="499.70" y="380.90" font-size="6.5" text-anchor="end" font-weight="normal" font-family="Liberation Sans" fill="#2a2a2a">16CT</text>
<line x1="500.9" y1="378.0" x2="558.6" y2="347.9" stroke="#111" stroke-width="0.85"/>
<text x="499.70" y="389.30" font-size="6.5" text-anchor="end" font-weight="normal" font-family="Liberation Sans" fill="#2a2a2a">20CT</text>
<line x1="500.9" y1="386.4" x2="570.0" y2="348.5" stroke="#111" stroke-width="0.85"/>
<text x="639.60" y="280.70" font-size="6.5" text-anchor="start" font-weight="normal" font-family="Liberation Sans" fill="#2a2a2a">25ET</text>
<line x1="638.7" y1="277.4" x2="573.9" y2="316.3" stroke="#111" stroke-width="0.85"/>
<text x="639.60" y="288.90" font-size="6.5" text-anchor="start" font-weight="normal" font-family="Liberation Sans" fill="#2a2a2a">32ET</text>
<line x1="638.7" y1="285.6" x2="582" y2="318.3" stroke="#111" stroke-width="0.85"/>
<text x="639.60" y="298.50" font-size="6.5" text-anchor="start" font-weight="normal" font-family="Liberation Sans" fill="#2a2a2a">35ET</text>
<line x1="638.7" y1="295.2" x2="586.8" y2="324.4" stroke="#111" stroke-width="0.85"/>
<text x="639.60" y="306.80" font-size="6.5" text-anchor="start" font-weight="normal" font-family="Liberation Sans" fill="#2a2a2a">40ET</text>
<line x1="638.7" y1="303.5" x2="602" y2="324" stroke="#111" stroke-width="0.85"/>
<text x="639.60" y="315.00" font-size="6.5" text-anchor="start" font-weight="normal" font-family="Liberation Sans" fill="#2a2a2a">45ET</text>
<line x1="638.7" y1="311.7" x2="604" y2="331.7" stroke="#111" stroke-width="0.85"/>
<text x="639.60" y="323.20" font-size="6.5" text-anchor="start" font-weight="normal" font-family="Liberation Sans" fill="#2a2a2a">56ET</text>
<line x1="638.7" y1="319.9" x2="610" y2="336.5" stroke="#111" stroke-width="0.85"/>
<text x="639.60" y="331.50" font-size="6.5" text-anchor="start" font-weight="normal" font-family="Liberation Sans" fill="#2a2a2a">63ET</text>
<line x1="638.7" y1="328.2" x2="614" y2="341.4" stroke="#111" stroke-width="0.85"/>
<text x="639.60" y="339.80" font-size="6.5" text-anchor="start" font-weight="normal" font-family="Liberation Sans" fill="#2a2a2a">80ET</text>
<line x1="638.7" y1="336.5" x2="623.6" y2="344.6" stroke="#111" stroke-width="0.85"/>
<text x="435.6" y="210.9" font-size="5.8" text-anchor="end" font-family="Liberation Sans" fill="#2a2a2a">10</text>
<text x="436.7" y="208.8" font-size="4.3" text-anchor="start" font-family="Liberation Sans" fill="#2a2a2a">4</text>
<text x="442.20" y="220.87" font-size="5.8" text-anchor="end" font-weight="normal" font-family="Liberation Sans" fill="#2a2a2a">6</text>
<text x="442.20" y="229.01" font-size="5.8" text-anchor="end" font-weight="normal" font-family="Liberation Sans" fill="#2a2a2a">4</text>
<text x="442.20" y="242.94" font-size="5.8" text-anchor="end" font-weight="normal" font-family="Liberation Sans" fill="#2a2a2a">2</text>
<text x="435.6" y="257.2" font-size="5.8" text-anchor="end" font-family="Liberation Sans" fill="#2a2a2a">10</text>
<text x="436.7" y="255.1" font-size="4.3" text-anchor="start" font-family="Liberation Sans" fill="#2a2a2a">3</text>
<text x="442.20" y="267.14" font-size="5.8" text-anchor="end" font-weight="normal" font-family="Liberation Sans" fill="#2a2a2a">6</text>
<text x="442.20" y="275.29" font-size="5.8" text-anchor="end" font-weight="normal" font-family="Liberation Sans" fill="#2a2a2a">4</text>
<text x="442.20" y="289.22" font-size="5.8" text-anchor="end" font-weight="normal" font-family="Liberation Sans" fill="#2a2a2a">2</text>
<text x="435.6" y="303.4" font-size="5.8" text-anchor="end" font-family="Liberation Sans" fill="#2a2a2a">10</text>
<text x="436.7" y="301.4" font-size="4.3" text-anchor="start" font-family="Liberation Sans" fill="#2a2a2a">2</text>
<text x="442.20" y="313.42" font-size="5.8" text-anchor="end" font-weight="normal" font-family="Liberation Sans" fill="#2a2a2a">6</text>
<text x="442.20" y="321.56" font-size="5.8" text-anchor="end" font-weight="normal" font-family="Liberation Sans" fill="#2a2a2a">4</text>
<text x="442.20" y="335.49" font-size="5.8" text-anchor="end" font-weight="normal" font-family="Liberation Sans" fill="#2a2a2a">2</text>
<text x="435.6" y="349.7" font-size="5.8" text-anchor="end" font-family="Liberation Sans" fill="#2a2a2a">10</text>
<text x="436.7" y="347.6" font-size="4.3" text-anchor="start" font-family="Liberation Sans" fill="#2a2a2a">1</text>
<text x="442.20" y="359.69" font-size="5.8" text-anchor="end" font-weight="normal" font-family="Liberation Sans" fill="#2a2a2a">6</text>
<text x="442.20" y="367.84" font-size="5.8" text-anchor="end" font-weight="normal" font-family="Liberation Sans" fill="#2a2a2a">4</text>
<text x="442.20" y="381.77" font-size="5.8" text-anchor="end" font-weight="normal" font-family="Liberation Sans" fill="#2a2a2a">2</text>
<text x="435.6" y="396.0" font-size="5.8" text-anchor="end" font-family="Liberation Sans" fill="#2a2a2a">10</text>
<text x="436.7" y="393.9" font-size="4.3" text-anchor="start" font-family="Liberation Sans" fill="#2a2a2a">0</text>
<text x="442.20" y="405.97" font-size="5.8" text-anchor="end" font-weight="normal" font-family="Liberation Sans" fill="#2a2a2a">6</text>
<text x="442.20" y="414.11" font-size="5.8" text-anchor="end" font-weight="normal" font-family="Liberation Sans" fill="#2a2a2a">4</text>
<text x="442.20" y="428.04" font-size="5.8" text-anchor="end" font-weight="normal" font-family="Liberation Sans" fill="#2a2a2a">2</text>
<text x="435.6" y="442.3" font-size="5.8" text-anchor="end" font-family="Liberation Sans" fill="#2a2a2a">10</text>
<text x="436.7" y="440.2" font-size="4.3" text-anchor="start" font-family="Liberation Sans" fill="#2a2a2a">−1</text>
<text x="442.20" y="452.24" font-size="5.8" text-anchor="end" font-weight="normal" font-family="Liberation Sans" fill="#2a2a2a">6</text>
<text x="442.20" y="460.39" font-size="5.8" text-anchor="end" font-weight="normal" font-family="Liberation Sans" fill="#2a2a2a">4</text>
<text x="442.20" y="474.32" font-size="5.8" text-anchor="end" font-weight="normal" font-family="Liberation Sans" fill="#2a2a2a">2</text>
<text x="435.6" y="488.6" font-size="5.8" text-anchor="end" font-family="Liberation Sans" fill="#2a2a2a">10</text>
<text x="436.7" y="486.5" font-size="4.3" text-anchor="start" font-family="Liberation Sans" fill="#2a2a2a">−2</text>
<text x="442.20" y="498.52" font-size="5.8" text-anchor="end" font-weight="normal" font-family="Liberation Sans" fill="#2a2a2a">6</text>
<text x="442.20" y="506.66" font-size="5.8" text-anchor="end" font-weight="normal" font-family="Liberation Sans" fill="#2a2a2a">4</text>
<text x="442.20" y="520.59" font-size="5.8" text-anchor="end" font-weight="normal" font-family="Liberation Sans" fill="#2a2a2a">2</text>
<text x="435.6" y="534.8" font-size="5.8" text-anchor="end" font-family="Liberation Sans" fill="#2a2a2a">10</text>
<text x="436.7" y="532.7" font-size="4.3" text-anchor="start" font-family="Liberation Sans" fill="#2a2a2a">−3</text>
<text x="442.20" y="544.79" font-size="5.8" text-anchor="end" font-weight="normal" font-family="Liberation Sans" fill="#2a2a2a">6</text>
<text x="442.20" y="552.94" font-size="5.8" text-anchor="end" font-weight="normal" font-family="Liberation Sans" fill="#2a2a2a">4</text>
<text x="442.20" y="566.87" font-size="5.8" text-anchor="end" font-weight="normal" font-family="Liberation Sans" fill="#2a2a2a">2</text>
<text x="435.6" y="581.1" font-size="5.8" text-anchor="end" font-family="Liberation Sans" fill="#2a2a2a">10</text>
<text x="436.7" y="579.0" font-size="4.3" text-anchor="start" font-family="Liberation Sans" fill="#2a2a2a">−4</text>
<text x="445.60" y="585.50" font-size="5.8" text-anchor="middle" font-weight="normal" font-family="Liberation Sans" fill="#2a2a2a">2</text>
<text x="473.44" y="585.50" font-size="5.8" text-anchor="middle" font-weight="normal" font-family="Liberation Sans" fill="#2a2a2a">4</text>
<text x="489.72" y="585.50" font-size="5.8" text-anchor="middle" font-weight="normal" font-family="Liberation Sans" fill="#2a2a2a">6</text>
<text x="501.27" y="585.50" font-size="5.8" text-anchor="middle" font-weight="normal" font-family="Liberation Sans" fill="#2a2a2a">8</text>
<text x="509.1" y="588.5" font-size="5.8" font-family="Liberation Sans" fill="#2a2a2a">10<tspan font-size="4.3" dy="-2.7">1</tspan></text>
<text x="538.07" y="585.50" font-size="5.8" text-anchor="middle" font-weight="bold" font-family="Liberation Sans" fill="#2a2a2a">2</text>
<text x="565.90" y="585.50" font-size="5.8" text-anchor="middle" font-weight="normal" font-family="Liberation Sans" fill="#2a2a2a">4</text>
<text x="582.18" y="585.50" font-size="5.8" text-anchor="middle" font-weight="normal" font-family="Liberation Sans" fill="#2a2a2a">6</text>
<text x="593.74" y="585.50" font-size="5.8" text-anchor="middle" font-weight="normal" font-family="Liberation Sans" fill="#2a2a2a">8</text>
<text x="601.6" y="588.5" font-size="5.8" font-family="Liberation Sans" fill="#2a2a2a">10<tspan font-size="4.3" dy="-2.7">2</tspan></text>
<text x="630.53" y="585.50" font-size="5.8" text-anchor="middle" font-weight="bold" font-family="Liberation Sans" fill="#2a2a2a">2</text>
<text x="658.37" y="585.50" font-size="5.8" text-anchor="middle" font-weight="normal" font-family="Liberation Sans" fill="#2a2a2a">4</text>
<text x="674.65" y="585.50" font-size="5.8" text-anchor="middle" font-weight="normal" font-family="Liberation Sans" fill="#2a2a2a">6</text>
<text x="686.20" y="585.50" font-size="5.8" text-anchor="middle" font-weight="normal" font-family="Liberation Sans" fill="#2a2a2a">8</text>
<text x="694.1" y="588.5" font-size="5.8" font-family="Liberation Sans" fill="#2a2a2a">10<tspan font-size="4.3" dy="-2.7">3</tspan></text>
<text x="578.90" y="599.00" font-size="6.55" text-anchor="middle" font-weight="normal" font-family="Liberation Sans" fill="#2a2a2a">Prospective Current In Amps RMS</text>
<text transform="translate(420.9,382.3) rotate(-90)" font-size="6.56" text-anchor="middle" font-family="Liberation Sans" fill="#2a2a2a">Virtual Pre-Arcing Time In Seconds</text>
</g>
<g id="c2">
<line x1="457.75" y1="662.40" x2="457.75" y2="951.00" stroke="#141414" stroke-width="1.05"/>
<line x1="467.96" y1="662.40" x2="467.96" y2="951.00" stroke="#141414" stroke-width="1.05"/>
<line x1="475.20" y1="662.40" x2="475.20" y2="951.00" stroke="#141414" stroke-width="1.05"/>
<line x1="480.81" y1="662.40" x2="480.81" y2="951.00" stroke="#141414" stroke-width="1.05"/>
<line x1="485.40" y1="662.40" x2="485.40" y2="951.00" stroke="#141414" stroke-width="1.05"/>
<line x1="489.28" y1="662.40" x2="489.28" y2="951.00" stroke="#141414" stroke-width="1.05"/>
<line x1="492.65" y1="662.40" x2="492.65" y2="951.00" stroke="#141414" stroke-width="1.05"/>
<line x1="495.61" y1="662.40" x2="495.61" y2="951.00" stroke="#141414" stroke-width="1.05"/>
<line x1="498.26" y1="662.40" x2="498.26" y2="951.00" stroke="#141414" stroke-width="1.05"/>
<line x1="515.71" y1="662.40" x2="515.71" y2="951.00" stroke="#141414" stroke-width="1.05"/>
<line x1="525.92" y1="662.40" x2="525.92" y2="951.00" stroke="#141414" stroke-width="1.05"/>
<line x1="533.16" y1="662.40" x2="533.16" y2="951.00" stroke="#141414" stroke-width="1.05"/>
<line x1="538.78" y1="662.40" x2="538.78" y2="951.00" stroke="#141414" stroke-width="1.05"/>
<line x1="543.37" y1="662.40" x2="543.37" y2="951.00" stroke="#141414" stroke-width="1.05"/>
<line x1="547.25" y1="662.40" x2="547.25" y2="951.00" stroke="#141414" stroke-width="1.05"/>
<line x1="550.61" y1="662.40" x2="550.61" y2="951.00" stroke="#141414" stroke-width="1.05"/>
<line x1="553.57" y1="662.40" x2="553.57" y2="951.00" stroke="#141414" stroke-width="1.05"/>
<line x1="556.23" y1="662.40" x2="556.23" y2="951.00" stroke="#141414" stroke-width="1.05"/>
<line x1="573.67" y1="662.40" x2="573.67" y2="951.00" stroke="#141414" stroke-width="1.05"/>
<line x1="583.88" y1="662.40" x2="583.88" y2="951.00" stroke="#141414" stroke-width="1.05"/>
<line x1="591.12" y1="662.40" x2="591.12" y2="951.00" stroke="#141414" stroke-width="1.05"/>
<line x1="596.74" y1="662.40" x2="596.74" y2="951.00" stroke="#141414" stroke-width="1.05"/>
<line x1="601.33" y1="662.40" x2="601.33" y2="951.00" stroke="#141414" stroke-width="1.05"/>
<line x1="605.21" y1="662.40" x2="605.21" y2="951.00" stroke="#141414" stroke-width="1.05"/>
<line x1="608.57" y1="662.40" x2="608.57" y2="951.00" stroke="#141414" stroke-width="1.05"/>
<line x1="611.54" y1="662.40" x2="611.54" y2="951.00" stroke="#141414" stroke-width="1.05"/>
<line x1="614.19" y1="662.40" x2="614.19" y2="951.00" stroke="#141414" stroke-width="1.05"/>
<line x1="631.64" y1="662.40" x2="631.64" y2="951.00" stroke="#141414" stroke-width="1.05"/>
<line x1="641.84" y1="662.40" x2="641.84" y2="951.00" stroke="#141414" stroke-width="1.05"/>
<line x1="649.09" y1="662.40" x2="649.09" y2="951.00" stroke="#141414" stroke-width="1.05"/>
<line x1="654.70" y1="662.40" x2="654.70" y2="951.00" stroke="#141414" stroke-width="1.05"/>
<line x1="659.29" y1="662.40" x2="659.29" y2="951.00" stroke="#141414" stroke-width="1.05"/>
<line x1="663.17" y1="662.40" x2="663.17" y2="951.00" stroke="#141414" stroke-width="1.05"/>
<line x1="666.53" y1="662.40" x2="666.53" y2="951.00" stroke="#141414" stroke-width="1.05"/>
<line x1="669.50" y1="662.40" x2="669.50" y2="951.00" stroke="#141414" stroke-width="1.05"/>
<line x1="672.15" y1="662.40" x2="672.15" y2="951.00" stroke="#141414" stroke-width="1.05"/>
<line x1="440.30" y1="933.62" x2="689.60" y2="933.62" stroke="#141414" stroke-width="1.05"/>
<line x1="440.30" y1="923.46" x2="689.60" y2="923.46" stroke="#141414" stroke-width="1.05"/>
<line x1="440.30" y1="916.25" x2="689.60" y2="916.25" stroke="#141414" stroke-width="1.05"/>
<line x1="440.30" y1="910.66" x2="689.60" y2="910.66" stroke="#141414" stroke-width="1.05"/>
<line x1="440.30" y1="906.09" x2="689.60" y2="906.09" stroke="#141414" stroke-width="1.05"/>
<line x1="440.30" y1="902.22" x2="689.60" y2="902.22" stroke="#141414" stroke-width="1.05"/>
<line x1="440.30" y1="898.87" x2="689.60" y2="898.87" stroke="#141414" stroke-width="1.05"/>
<line x1="440.30" y1="895.92" x2="689.60" y2="895.92" stroke="#141414" stroke-width="1.05"/>
<line x1="440.30" y1="893.28" x2="689.60" y2="893.28" stroke="#141414" stroke-width="1.05"/>
<line x1="440.30" y1="875.90" x2="689.60" y2="875.90" stroke="#141414" stroke-width="1.05"/>
<line x1="440.30" y1="865.74" x2="689.60" y2="865.74" stroke="#141414" stroke-width="1.05"/>
<line x1="440.30" y1="858.53" x2="689.60" y2="858.53" stroke="#141414" stroke-width="1.05"/>
<line x1="440.30" y1="852.94" x2="689.60" y2="852.94" stroke="#141414" stroke-width="1.05"/>
<line x1="440.30" y1="848.37" x2="689.60" y2="848.37" stroke="#141414" stroke-width="1.05"/>
<line x1="440.30" y1="844.50" x2="689.60" y2="844.50" stroke="#141414" stroke-width="1.05"/>
<line x1="440.30" y1="841.15" x2="689.60" y2="841.15" stroke="#141414" stroke-width="1.05"/>
<line x1="440.30" y1="838.20" x2="689.60" y2="838.20" stroke="#141414" stroke-width="1.05"/>
<line x1="440.30" y1="835.56" x2="689.60" y2="835.56" stroke="#141414" stroke-width="1.05"/>
<line x1="440.30" y1="818.18" x2="689.60" y2="818.18" stroke="#141414" stroke-width="1.05"/>
<line x1="440.30" y1="808.02" x2="689.60" y2="808.02" stroke="#141414" stroke-width="1.05"/>
<line x1="440.30" y1="800.81" x2="689.60" y2="800.81" stroke="#141414" stroke-width="1.05"/>
<line x1="440.30" y1="795.22" x2="689.60" y2="795.22" stroke="#141414" stroke-width="1.05"/>
<line x1="440.30" y1="790.65" x2="689.60" y2="790.65" stroke="#141414" stroke-width="1.05"/>
<line x1="440.30" y1="786.78" x2="689.60" y2="786.78" stroke="#141414" stroke-width="1.05"/>
<line x1="440.30" y1="783.43" x2="689.60" y2="783.43" stroke="#141414" stroke-width="1.05"/>
<line x1="440.30" y1="780.48" x2="689.60" y2="780.48" stroke="#141414" stroke-width="1.05"/>
<line x1="440.30" y1="777.84" x2="689.60" y2="777.84" stroke="#141414" stroke-width="1.05"/>
<line x1="440.30" y1="760.46" x2="689.60" y2="760.46" stroke="#141414" stroke-width="1.05"/>
<line x1="440.30" y1="750.30" x2="689.60" y2="750.30" stroke="#141414" stroke-width="1.05"/>
<line x1="440.30" y1="743.09" x2="689.60" y2="743.09" stroke="#141414" stroke-width="1.05"/>
<line x1="440.30" y1="737.50" x2="689.60" y2="737.50" stroke="#141414" stroke-width="1.05"/>
<line x1="440.30" y1="732.93" x2="689.60" y2="732.93" stroke="#141414" stroke-width="1.05"/>
<line x1="440.30" y1="729.06" x2="689.60" y2="729.06" stroke="#141414" stroke-width="1.05"/>
<line x1="440.30" y1="725.71" x2="689.60" y2="725.71" stroke="#141414" stroke-width="1.05"/>
<line x1="440.30" y1="722.76" x2="689.60" y2="722.76" stroke="#141414" stroke-width="1.05"/>
<line x1="440.30" y1="720.12" x2="689.60" y2="720.12" stroke="#141414" stroke-width="1.05"/>
<line x1="440.30" y1="702.74" x2="689.60" y2="702.74" stroke="#141414" stroke-width="1.05"/>
<line x1="440.30" y1="692.58" x2="689.60" y2="692.58" stroke="#141414" stroke-width="1.05"/>
<line x1="440.30" y1="685.37" x2="689.60" y2="685.37" stroke="#141414" stroke-width="1.05"/>
<line x1="440.30" y1="679.78" x2="689.60" y2="679.78" stroke="#141414" stroke-width="1.05"/>
<line x1="440.30" y1="675.21" x2="689.60" y2="675.21" stroke="#141414" stroke-width="1.05"/>
<line x1="440.30" y1="671.34" x2="689.60" y2="671.34" stroke="#141414" stroke-width="1.05"/>
<line x1="440.30" y1="667.99" x2="689.60" y2="667.99" stroke="#141414" stroke-width="1.05"/>
<line x1="440.30" y1="665.04" x2="689.60" y2="665.04" stroke="#141414" stroke-width="1.05"/>
<rect x="440.3" y="662.4" width="249.3" height="288.6" fill="none" stroke="#111" stroke-width="1"/>
<g fill="none" stroke="#111" stroke-width="0.95">
<line x1="459.3" y1="911.8" x2="689.6" y2="833.5"/>
<line x1="466.1" y1="905.0" x2="689.6" y2="829.0"/>
<line x1="472.9" y1="898.2" x2="689.6" y2="824.5"/>
<line x1="479.8" y1="891.3" x2="689.6" y2="820.0"/>
<line x1="486.6" y1="884.5" x2="689.6" y2="815.5"/>
<line x1="492.0" y1="879.1" x2="689.6" y2="811.9"/>
<line x1="496.9" y1="874.2" x2="689.6" y2="808.7"/>
<line x1="501.7" y1="869.4" x2="689.6" y2="805.5"/>
<line x1="506.6" y1="864.5" x2="689.6" y2="802.3"/>
<line x1="511.4" y1="859.7" x2="689.6" y2="799.1"/>
<line x1="516.3" y1="854.8" x2="689.6" y2="795.9"/>
<line x1="521.1" y1="850.0" x2="689.6" y2="792.7"/>
<line x1="526.0" y1="845.1" x2="689.6" y2="789.5"/>
<line x1="530.5" y1="840.6" x2="689.6" y2="786.5"/>
<line x1="535.1" y1="836.0" x2="689.6" y2="783.5"/>
<line x1="539.6" y1="831.5" x2="689.6" y2="780.5"/>
<line x1="544.1" y1="827.0" x2="689.6" y2="777.5"/>
<line x1="548.8" y1="822.3" x2="689.6" y2="774.4"/>
<line x1="553.1" y1="818.0" x2="689.6" y2="771.6"/>
<line x1="557.3" y1="813.8" x2="689.6" y2="768.8"/>
<line x1="561.5" y1="809.6" x2="689.6" y2="766.1"/>
<line x1="565.7" y1="805.4" x2="689.6" y2="763.3"/>
<line x1="569.9" y1="801.2" x2="689.6" y2="760.5"/>
<line x1="574.1" y1="797.0" x2="689.6" y2="757.7"/>
<line x1="578.3" y1="792.8" x2="689.6" y2="754.9"/>
<line x1="582.5" y1="788.6" x2="689.6" y2="752.2"/>
<line x1="586.8" y1="784.3" x2="689.6" y2="749.4"/>
<line x1="591.0" y1="780.1" x2="689.6" y2="746.6"/>
<line x1="595.2" y1="775.9" x2="689.6" y2="743.8"/>
<line x1="599.4" y1="771.7" x2="689.6" y2="741.0"/>
<line x1="440.3" y1="930.8" x2="598.8" y2="772.3" stroke-width="1.7"/>
</g>
<rect x="574.6" y="676.4" width="30.2" height="73.5" fill="#fff"/>
<rect x="539.4" y="703.1" width="38.3" height="17.5" fill="#fff"/>
<rect x="556.8" y="719.6" width="20.8" height="30.3" fill="#fff"/>
<rect x="556.8" y="876.4" width="16.4" height="39.3" fill="#fff"/>
<rect x="614.8" y="866.2" width="16.4" height="43.9" fill="#fff"/>
<rect x="672.8" y="848.9" width="23.2" height="26.5" fill="#fff"/>
<g stroke="#111" stroke-width="0.8">
<line x1="601.0" y1="681.3" x2="656.5" y2="752.3"/>
<line x1="601.0" y1="686.6" x2="654.9" y2="755.6"/>
<line x1="601.0" y1="691.8" x2="653.4" y2="758.9"/>
<line x1="601.0" y1="697.2" x2="651.8" y2="762.2"/>
<line x1="601.0" y1="702.3" x2="650.4" y2="765.5"/>
<line x1="601.0" y1="707.4" x2="648.9" y2="768.8"/>
<line x1="601.0" y1="712.8" x2="647.3" y2="772.1"/>
<line x1="601.0" y1="718.2" x2="645.7" y2="775.4"/>
<line x1="601.0" y1="723.6" x2="644.1" y2="778.8"/>
<line x1="601.0" y1="729.0" x2="642.5" y2="782.1"/>
<line x1="601.0" y1="734.4" x2="640.9" y2="785.4"/>
<line x1="601.0" y1="739.8" x2="639.2" y2="788.7"/>
<line x1="601.0" y1="745.2" x2="637.6" y2="792.1"/>
<line x1="559.2" y1="910.0" x2="539.0" y2="884.7"/>
<line x1="559.2" y1="904.9" x2="539.3" y2="880.1"/>
<line x1="559.2" y1="899.6" x2="539.9" y2="875.4"/>
<line x1="559.2" y1="894.1" x2="540.5" y2="870.7"/>
<line x1="559.2" y1="889.3" x2="540.7" y2="866.1"/>
<line x1="616.9" y1="906.9" x2="575.6" y2="850.7"/>
<line x1="616.9" y1="901.8" x2="576.7" y2="847.1"/>
<line x1="616.9" y1="896.3" x2="578.0" y2="843.4"/>
<line x1="616.9" y1="891.0" x2="579.3" y2="839.8"/>
<line x1="616.9" y1="885.7" x2="580.5" y2="836.2"/>
<line x1="616.9" y1="880.4" x2="581.7" y2="832.6"/>
<line x1="616.9" y1="875.0" x2="583.0" y2="828.9"/>
<line x1="616.9" y1="869.9" x2="584.1" y2="825.4"/>
<line x1="672.6" y1="869.5" x2="628.7" y2="807.2"/>
<line x1="672.6" y1="864.2" x2="630.0" y2="803.8"/>
<line x1="672.6" y1="859.0" x2="631.3" y2="800.3"/>
<line x1="672.6" y1="853.7" x2="632.6" y2="796.9"/>
</g>
<text x="600.30" y="683.45" font-size="5.2" text-anchor="end" font-weight="normal" font-family="Liberation Sans" fill="#2a2a2a">710MMT</text>
<text x="600.30" y="688.75" font-size="5.2" text-anchor="end" font-weight="normal" font-family="Liberation Sans" fill="#2a2a2a">630MMT</text>
<text x="600.30" y="693.95" font-size="5.2" text-anchor="end" font-weight="normal" font-family="Liberation Sans" fill="#2a2a2a">560MMT</text>
<text x="600.30" y="699.35" font-size="5.2" text-anchor="end" font-weight="normal" font-family="Liberation Sans" fill="#2a2a2a">500MMT</text>
<text x="600.30" y="704.45" font-size="5.2" text-anchor="end" font-weight="normal" font-family="Liberation Sans" fill="#2a2a2a">450MMT</text>
<text x="600.30" y="709.55" font-size="5.2" text-anchor="end" font-weight="normal" font-family="Liberation Sans" fill="#2a2a2a">400MMT</text>
<text x="600.30" y="714.95" font-size="5.2" text-anchor="end" font-weight="normal" font-family="Liberation Sans" fill="#2a2a2a">355MMT</text>
<text x="600.30" y="720.35" font-size="5.2" text-anchor="end" font-weight="normal" font-family="Liberation Sans" fill="#2a2a2a">315MMT</text>
<text x="600.30" y="725.75" font-size="5.2" text-anchor="end" font-weight="normal" font-family="Liberation Sans" fill="#2a2a2a">280MMT</text>
<text x="600.30" y="731.15" font-size="5.2" text-anchor="end" font-weight="normal" font-family="Liberation Sans" fill="#2a2a2a">200MT</text>
<text x="600.30" y="736.55" font-size="5.2" text-anchor="end" font-weight="normal" font-family="Liberation Sans" fill="#2a2a2a">225MMT</text>
<text x="600.30" y="741.95" font-size="5.2" text-anchor="end" font-weight="normal" font-family="Liberation Sans" fill="#2a2a2a">200MMT</text>
<text x="600.30" y="747.35" font-size="5.2" text-anchor="end" font-weight="normal" font-family="Liberation Sans" fill="#2a2a2a">180MMT</text>
<text x="576.30" y="709.55" font-size="5.2" text-anchor="end" font-weight="normal" font-family="Liberation Sans" fill="#2a2a2a">355MT</text>
<text x="576.30" y="714.95" font-size="5.2" text-anchor="end" font-weight="normal" font-family="Liberation Sans" fill="#2a2a2a">280MT</text>
<text x="576.30" y="720.35" font-size="5.2" text-anchor="end" font-weight="normal" font-family="Liberation Sans" fill="#2a2a2a">250MT</text>
<text x="576.30" y="736.55" font-size="5.2" text-anchor="end" font-weight="normal" font-family="Liberation Sans" fill="#2a2a2a">180MT</text>
<text x="576.30" y="741.95" font-size="5.2" text-anchor="end" font-weight="normal" font-family="Liberation Sans" fill="#2a2a2a">160MT</text>
<text x="556.20" y="709.55" font-size="5.2" text-anchor="end" font-weight="normal" font-family="Liberation Sans" fill="#2a2a2a">315MT</text>
<text x="559.90" y="911.85" font-size="5.2" text-anchor="start" font-weight="normal" font-family="Liberation Sans" fill="#2a2a2a">6CT</text>
<text x="559.90" y="906.75" font-size="5.2" text-anchor="start" font-weight="normal" font-family="Liberation Sans" fill="#2a2a2a">10CT</text>
<text x="559.90" y="901.45" font-size="5.2" text-anchor="start" font-weight="normal" font-family="Liberation Sans" fill="#2a2a2a">12CT</text>
<text x="559.90" y="895.95" font-size="5.2" text-anchor="start" font-weight="normal" font-family="Liberation Sans" fill="#2a2a2a">16CT</text>
<text x="559.90" y="891.15" font-size="5.2" text-anchor="start" font-weight="normal" font-family="Liberation Sans" fill="#2a2a2a">20CT</text>
<text x="617.70" y="908.75" font-size="5.2" text-anchor="start" font-weight="normal" font-family="Liberation Sans" fill="#2a2a2a">25ET</text>
<text x="617.70" y="903.65" font-size="5.2" text-anchor="start" font-weight="normal" font-family="Liberation Sans" fill="#2a2a2a">32ET</text>
<text x="617.70" y="898.15" font-size="5.2" text-anchor="start" font-weight="normal" font-family="Liberation Sans" fill="#2a2a2a">35ET</text>
<text x="617.70" y="892.85" font-size="5.2" text-anchor="start" font-weight="normal" font-family="Liberation Sans" fill="#2a2a2a">40ET</text>
<text x="617.70" y="887.55" font-size="5.2" text-anchor="start" font-weight="normal" font-family="Liberation Sans" fill="#2a2a2a">45ET</text>
<text x="617.70" y="882.25" font-size="5.2" text-anchor="start" font-weight="normal" font-family="Liberation Sans" fill="#2a2a2a">56ET</text>
<text x="617.70" y="876.85" font-size="5.2" text-anchor="start" font-weight="normal" font-family="Liberation Sans" fill="#2a2a2a">63ET</text>
<text x="617.70" y="871.75" font-size="5.2" text-anchor="start" font-weight="normal" font-family="Liberation Sans" fill="#2a2a2a">80ET</text>
<text x="673.30" y="871.35" font-size="5.2" text-anchor="start" font-weight="normal" font-family="Liberation Sans" fill="#2a2a2a">90EET</text>
<text x="673.30" y="866.05" font-size="5.2" text-anchor="start" font-weight="normal" font-family="Liberation Sans" fill="#2a2a2a">110EET</text>
<text x="673.30" y="860.85" font-size="5.2" text-anchor="start" font-weight="normal" font-family="Liberation Sans" fill="#2a2a2a">140EET</text>
<text x="673.30" y="855.55" font-size="5.2" text-anchor="start" font-weight="normal" font-family="Liberation Sans" fill="#2a2a2a">160EET</text>
<text x="434.7" y="951.9" font-size="5.2" text-anchor="end" font-family="Liberation Sans" fill="#2a2a2a">10</text>
<text x="434.9" y="949.6" font-size="3.4" text-anchor="start" font-family="Liberation Sans" fill="#2a2a2a">1</text>
<text x="439.70" y="907.69" font-size="4.5" text-anchor="end" font-weight="normal" font-family="Liberation Sans" fill="#2a2a2a">6</text>
<text x="439.70" y="917.85" font-size="4.5" text-anchor="end" font-weight="normal" font-family="Liberation Sans" fill="#2a2a2a">4</text>
<text x="439.70" y="935.22" font-size="4.5" text-anchor="end" font-weight="normal" font-family="Liberation Sans" fill="#2a2a2a">2</text>
<text x="434.7" y="894.2" font-size="5.2" text-anchor="end" font-family="Liberation Sans" fill="#2a2a2a">10</text>
<text x="434.9" y="891.9" font-size="3.4" text-anchor="start" font-family="Liberation Sans" fill="#2a2a2a">2</text>
<text x="439.70" y="849.97" font-size="4.5" text-anchor="end" font-weight="normal" font-family="Liberation Sans" fill="#2a2a2a">6</text>
<text x="439.70" y="860.13" font-size="4.5" text-anchor="end" font-weight="normal" font-family="Liberation Sans" fill="#2a2a2a">4</text>
<text x="439.70" y="877.50" font-size="4.5" text-anchor="end" font-weight="normal" font-family="Liberation Sans" fill="#2a2a2a">2</text>
<text x="434.7" y="836.5" font-size="5.2" text-anchor="end" font-family="Liberation Sans" fill="#2a2a2a">10</text>
<text x="434.9" y="834.2" font-size="3.4" text-anchor="start" font-family="Liberation Sans" fill="#2a2a2a">3</text>
<text x="439.70" y="792.25" font-size="4.5" text-anchor="end" font-weight="normal" font-family="Liberation Sans" fill="#2a2a2a">6</text>
<text x="439.70" y="802.41" font-size="4.5" text-anchor="end" font-weight="normal" font-family="Liberation Sans" fill="#2a2a2a">4</text>
<text x="439.70" y="819.78" font-size="4.5" text-anchor="end" font-weight="normal" font-family="Liberation Sans" fill="#2a2a2a">2</text>
<text x="434.7" y="778.7" font-size="5.2" text-anchor="end" font-family="Liberation Sans" fill="#2a2a2a">10</text>
<text x="434.9" y="776.4" font-size="3.4" text-anchor="start" font-family="Liberation Sans" fill="#2a2a2a">4</text>
<text x="439.70" y="734.53" font-size="4.5" text-anchor="end" font-weight="normal" font-family="Liberation Sans" fill="#2a2a2a">6</text>
<text x="439.70" y="744.69" font-size="4.5" text-anchor="end" font-weight="normal" font-family="Liberation Sans" fill="#2a2a2a">4</text>
<text x="439.70" y="762.06" font-size="4.5" text-anchor="end" font-weight="normal" font-family="Liberation Sans" fill="#2a2a2a">2</text>
<text x="434.7" y="721.0" font-size="5.2" text-anchor="end" font-family="Liberation Sans" fill="#2a2a2a">10</text>
<text x="434.9" y="718.7" font-size="3.4" text-anchor="start" font-family="Liberation Sans" fill="#2a2a2a">5</text>
<text x="439.70" y="676.81" font-size="4.5" text-anchor="end" font-weight="normal" font-family="Liberation Sans" fill="#2a2a2a">6</text>
<text x="439.70" y="686.97" font-size="4.5" text-anchor="end" font-weight="normal" font-family="Liberation Sans" fill="#2a2a2a">4</text>
<text x="439.70" y="704.34" font-size="4.5" text-anchor="end" font-weight="normal" font-family="Liberation Sans" fill="#2a2a2a">2</text>
<text x="439.4" y="960.0" font-size="5.2" font-family="Liberation Sans" fill="#2a2a2a">10<tspan font-size="3.4" dy="-2.3">1</tspan></text>
<text x="458.05" y="956.40" font-size="4.5" text-anchor="middle" font-weight="normal" font-family="Liberation Sans" fill="#2a2a2a">2</text>
<text x="475.50" y="956.40" font-size="4.5" text-anchor="middle" font-weight="normal" font-family="Liberation Sans" fill="#2a2a2a">4</text>
<text x="485.70" y="956.40" font-size="4.5" text-anchor="middle" font-weight="normal" font-family="Liberation Sans" fill="#2a2a2a">6</text>
<text x="497.4" y="960.0" font-size="5.2" font-family="Liberation Sans" fill="#2a2a2a">10<tspan font-size="3.4" dy="-2.3">2</tspan></text>
<text x="516.01" y="956.40" font-size="4.5" text-anchor="middle" font-weight="normal" font-family="Liberation Sans" fill="#2a2a2a">2</text>
<text x="533.46" y="956.40" font-size="4.5" text-anchor="middle" font-weight="normal" font-family="Liberation Sans" fill="#2a2a2a">4</text>
<text x="543.67" y="956.40" font-size="4.5" text-anchor="middle" font-weight="normal" font-family="Liberation Sans" fill="#2a2a2a">6</text>
<text x="555.3" y="960.0" font-size="5.2" font-family="Liberation Sans" fill="#2a2a2a">10<tspan font-size="3.4" dy="-2.3">3</tspan></text>
<text x="573.97" y="956.40" font-size="4.5" text-anchor="middle" font-weight="normal" font-family="Liberation Sans" fill="#2a2a2a">2</text>
<text x="591.42" y="956.40" font-size="4.5" text-anchor="middle" font-weight="normal" font-family="Liberation Sans" fill="#2a2a2a">4</text>
<text x="601.63" y="956.40" font-size="4.5" text-anchor="middle" font-weight="normal" font-family="Liberation Sans" fill="#2a2a2a">6</text>
<text x="613.3" y="960.0" font-size="5.2" font-family="Liberation Sans" fill="#2a2a2a">10<tspan font-size="3.4" dy="-2.3">4</tspan></text>
<text x="631.94" y="956.40" font-size="4.5" text-anchor="middle" font-weight="normal" font-family="Liberation Sans" fill="#2a2a2a">2</text>
<text x="649.39" y="956.40" font-size="4.5" text-anchor="middle" font-weight="normal" font-family="Liberation Sans" fill="#2a2a2a">4</text>
<text x="659.59" y="956.40" font-size="4.5" text-anchor="middle" font-weight="normal" font-family="Liberation Sans" fill="#2a2a2a">6</text>
<text x="669.6" y="960.0" font-size="5.2" font-family="Liberation Sans" fill="#2a2a2a">10<tspan font-size="3.4" dy="-2.3">5</tspan></text>
<text x="689.90" y="956.40" font-size="4.5" text-anchor="middle" font-weight="normal" font-family="Liberation Sans" fill="#2a2a2a">2</text>
<text x="565.30" y="970.90" font-size="5.37" text-anchor="middle" font-weight="normal" font-family="Liberation Sans" fill="#2a2a2a">Prospective Short-Circuit Current Symmetrical RMS</text>
<text transform="translate(425.0,806.8) rotate(-90)" font-size="5.34" text-anchor="middle" font-family="Liberation Sans" fill="#2a2a2a">Peak Let-Through Current</text>
</g>
</svg>
</body></html>
